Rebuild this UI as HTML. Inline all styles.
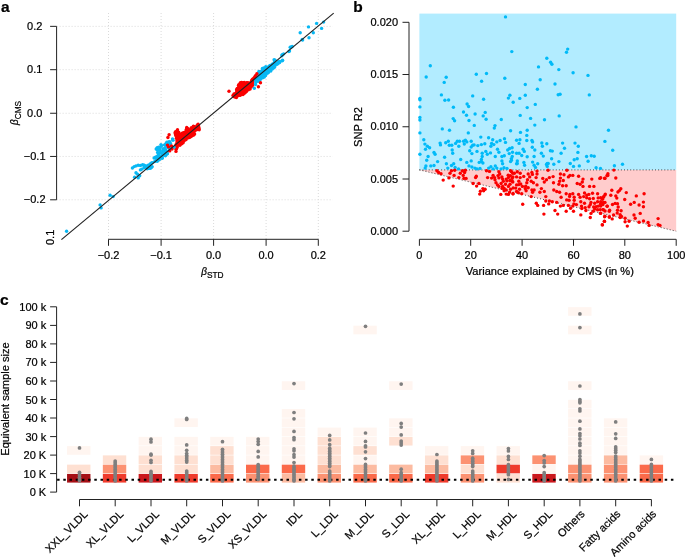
<!DOCTYPE html>
<html><head><meta charset="utf-8"><title>figure</title>
<style>html,body{margin:0;padding:0;background:#fff}svg{display:block;will-change:transform}text{font-family:"Liberation Sans",sans-serif;fill:#000;stroke:#000;stroke-width:0.22px}</style></head><body>
<svg width="685" height="557" viewBox="0 0 685 557">
<rect x="0" y="0" width="685" height="557" fill="#fff"/>
<g id="pa">
<line x1="56.6" y1="26.35" x2="332.7" y2="26.35" stroke="#dadada" stroke-width="1" stroke-dasharray="1 2"/>
<line x1="56.6" y1="69.7" x2="332.7" y2="69.7" stroke="#dadada" stroke-width="1" stroke-dasharray="1 2"/>
<line x1="56.6" y1="113.25" x2="332.7" y2="113.25" stroke="#dadada" stroke-width="1" stroke-dasharray="1 2"/>
<line x1="56.6" y1="156.45" x2="332.7" y2="156.45" stroke="#dadada" stroke-width="1" stroke-dasharray="1 2"/>
<line x1="56.6" y1="199.8" x2="332.7" y2="199.8" stroke="#dadada" stroke-width="1" stroke-dasharray="1 2"/>
<line x1="108.5" y1="13.0" x2="108.5" y2="239.3" stroke="#dadada" stroke-width="1" stroke-dasharray="1 2"/>
<line x1="161.1" y1="13.0" x2="161.1" y2="239.3" stroke="#dadada" stroke-width="1" stroke-dasharray="1 2"/>
<line x1="213.6" y1="13.0" x2="213.6" y2="239.3" stroke="#dadada" stroke-width="1" stroke-dasharray="1 2"/>
<line x1="266.1" y1="13.0" x2="266.1" y2="239.3" stroke="#dadada" stroke-width="1" stroke-dasharray="1 2"/>
<line x1="318.3" y1="13.0" x2="318.3" y2="239.3" stroke="#dadada" stroke-width="1" stroke-dasharray="1 2"/>
<g fill="#FA0000">
<circle cx="180.4" cy="142.1" r="1.7"/>
<circle cx="181.4" cy="134.1" r="1.7"/>
<circle cx="188.9" cy="134.1" r="1.7"/>
<circle cx="183.3" cy="134.1" r="1.7"/>
<circle cx="177.0" cy="141.9" r="1.7"/>
<circle cx="178.9" cy="137.0" r="1.7"/>
<circle cx="180.3" cy="135.0" r="1.7"/>
<circle cx="190.0" cy="133.0" r="1.7"/>
<circle cx="176.9" cy="136.0" r="1.7"/>
<circle cx="178.7" cy="132.1" r="1.7"/>
<circle cx="179.1" cy="140.0" r="1.7"/>
<circle cx="188.6" cy="137.7" r="1.7"/>
<circle cx="180.7" cy="139.4" r="1.7"/>
<circle cx="187.6" cy="135.5" r="1.7"/>
<circle cx="191.8" cy="129.9" r="1.7"/>
<circle cx="196.7" cy="128.7" r="1.7"/>
<circle cx="189.5" cy="131.8" r="1.7"/>
<circle cx="194.6" cy="126.6" r="1.7"/>
<circle cx="186.6" cy="138.0" r="1.7"/>
<circle cx="196.0" cy="127.4" r="1.7"/>
<circle cx="176.9" cy="145.8" r="1.7"/>
<circle cx="197.2" cy="125.3" r="1.7"/>
<circle cx="186.5" cy="132.3" r="1.7"/>
<circle cx="179.2" cy="143.2" r="1.7"/>
<circle cx="185.5" cy="138.6" r="1.7"/>
<circle cx="198.1" cy="124.2" r="1.7"/>
<circle cx="177.1" cy="137.4" r="1.7"/>
<circle cx="185.0" cy="140.1" r="1.7"/>
<circle cx="186.7" cy="128.8" r="1.7"/>
<circle cx="183.7" cy="135.5" r="1.7"/>
<circle cx="178.6" cy="138.6" r="1.7"/>
<circle cx="189.5" cy="130.2" r="1.7"/>
<circle cx="191.2" cy="134.0" r="1.7"/>
<circle cx="198.8" cy="128.7" r="1.7"/>
<circle cx="180.0" cy="137.2" r="1.7"/>
<circle cx="194.3" cy="131.3" r="1.7"/>
<circle cx="192.6" cy="134.0" r="1.7"/>
<circle cx="176.1" cy="149.3" r="1.7"/>
<circle cx="177.0" cy="143.4" r="1.7"/>
<circle cx="192.2" cy="132.4" r="1.7"/>
<circle cx="185.7" cy="133.5" r="1.7"/>
<circle cx="177.3" cy="130.8" r="1.7"/>
<circle cx="175.1" cy="132.7" r="1.7"/>
<circle cx="187.6" cy="137.0" r="1.7"/>
<circle cx="181.0" cy="143.1" r="1.7"/>
<circle cx="181.2" cy="138.0" r="1.7"/>
<circle cx="193.7" cy="135.0" r="1.7"/>
<circle cx="194.6" cy="134.1" r="1.7"/>
<circle cx="191.7" cy="136.1" r="1.7"/>
<circle cx="177.2" cy="140.3" r="1.7"/>
<circle cx="183.4" cy="140.0" r="1.7"/>
<circle cx="177.3" cy="147.0" r="1.7"/>
<circle cx="183.1" cy="138.8" r="1.7"/>
<circle cx="184.7" cy="136.8" r="1.7"/>
<circle cx="185.4" cy="132.1" r="1.7"/>
<circle cx="178.9" cy="144.5" r="1.7"/>
<circle cx="182.4" cy="137.6" r="1.7"/>
<circle cx="186.5" cy="136.5" r="1.7"/>
<circle cx="175.4" cy="133.9" r="1.7"/>
<circle cx="179.9" cy="145.3" r="1.7"/>
<circle cx="191.8" cy="131.3" r="1.7"/>
<circle cx="184.7" cy="134.1" r="1.7"/>
<circle cx="188.8" cy="136.3" r="1.7"/>
<circle cx="176.5" cy="148.4" r="1.7"/>
<circle cx="190.9" cy="131.9" r="1.7"/>
<circle cx="193.5" cy="129.5" r="1.7"/>
<circle cx="193.2" cy="127.7" r="1.7"/>
<circle cx="195.6" cy="129.9" r="1.7"/>
<circle cx="198.6" cy="126.1" r="1.7"/>
<circle cx="182.0" cy="136.5" r="1.7"/>
<circle cx="189.9" cy="137.2" r="1.7"/>
<circle cx="181.8" cy="138.9" r="1.7"/>
<circle cx="187.6" cy="132.3" r="1.7"/>
<circle cx="176.6" cy="133.9" r="1.7"/>
<circle cx="178.5" cy="142.1" r="1.7"/>
<circle cx="181.0" cy="140.4" r="1.7"/>
<circle cx="176.4" cy="138.3" r="1.7"/>
<circle cx="178.1" cy="143.3" r="1.7"/>
<circle cx="186.3" cy="134.4" r="1.7"/>
<circle cx="177.9" cy="136.7" r="1.7"/>
<circle cx="184.1" cy="139.0" r="1.7"/>
<circle cx="188.0" cy="133.5" r="1.7"/>
<circle cx="176.0" cy="144.7" r="1.7"/>
<circle cx="188.3" cy="131.0" r="1.7"/>
<circle cx="181.7" cy="143.8" r="1.7"/>
<circle cx="190.6" cy="129.4" r="1.7"/>
<circle cx="193.4" cy="126.1" r="1.7"/>
<circle cx="187.0" cy="133.3" r="1.7"/>
<circle cx="176.2" cy="146.8" r="1.7"/>
<circle cx="181.6" cy="142.3" r="1.7"/>
<circle cx="198.9" cy="127.7" r="1.7"/>
<circle cx="175.6" cy="131.7" r="1.7"/>
<circle cx="192.5" cy="135.3" r="1.7"/>
<circle cx="186.1" cy="130.0" r="1.7"/>
<circle cx="186.7" cy="127.4" r="1.7"/>
<circle cx="177.0" cy="132.3" r="1.7"/>
<circle cx="183.7" cy="137.7" r="1.7"/>
<circle cx="185.0" cy="135.5" r="1.7"/>
<circle cx="182.5" cy="141.7" r="1.7"/>
<circle cx="182.0" cy="140.4" r="1.7"/>
<circle cx="191.4" cy="127.6" r="1.7"/>
<circle cx="183.4" cy="136.6" r="1.7"/>
<circle cx="179.2" cy="133.4" r="1.7"/>
<circle cx="197.7" cy="128.4" r="1.7"/>
<circle cx="193.9" cy="133.2" r="1.7"/>
<circle cx="183.1" cy="142.8" r="1.7"/>
<circle cx="191.7" cy="128.6" r="1.7"/>
<circle cx="178.3" cy="135.1" r="1.7"/>
<circle cx="188.0" cy="128.8" r="1.7"/>
<circle cx="178.5" cy="141.1" r="1.7"/>
<circle cx="182.2" cy="133.3" r="1.7"/>
<circle cx="189.4" cy="135.2" r="1.7"/>
<circle cx="196.6" cy="129.8" r="1.7"/>
<circle cx="179.9" cy="140.6" r="1.7"/>
<circle cx="199.2" cy="129.7" r="1.7"/>
<circle cx="183.3" cy="132.9" r="1.7"/>
<circle cx="177.7" cy="133.4" r="1.7"/>
<circle cx="189.9" cy="134.2" r="1.7"/>
<circle cx="190.7" cy="136.5" r="1.7"/>
<circle cx="184.3" cy="132.5" r="1.7"/>
<circle cx="183.8" cy="141.0" r="1.7"/>
<circle cx="177.5" cy="129.7" r="1.7"/>
<circle cx="186.1" cy="139.6" r="1.7"/>
<circle cx="190.7" cy="130.5" r="1.7"/>
<circle cx="175.7" cy="135.4" r="1.7"/>
<circle cx="188.0" cy="129.8" r="1.7"/>
<circle cx="197.0" cy="126.7" r="1.7"/>
<circle cx="177.4" cy="139.1" r="1.7"/>
<circle cx="179.6" cy="136.2" r="1.7"/>
<circle cx="194.8" cy="128.5" r="1.7"/>
<circle cx="238.7" cy="90.6" r="1.7"/>
<circle cx="241.3" cy="93.1" r="1.7"/>
<circle cx="237.5" cy="93.8" r="1.7"/>
<circle cx="245.5" cy="90.1" r="1.7"/>
<circle cx="246.5" cy="89.3" r="1.7"/>
<circle cx="236.4" cy="93.6" r="1.7"/>
<circle cx="243.6" cy="90.6" r="1.7"/>
<circle cx="245.0" cy="84.5" r="1.7"/>
<circle cx="243.7" cy="84.0" r="1.7"/>
<circle cx="249.7" cy="87.6" r="1.7"/>
<circle cx="239.9" cy="87.6" r="1.7"/>
<circle cx="247.6" cy="84.9" r="1.7"/>
<circle cx="237.2" cy="88.5" r="1.7"/>
<circle cx="251.3" cy="82.2" r="1.7"/>
<circle cx="245.8" cy="88.3" r="1.7"/>
<circle cx="240.4" cy="82.6" r="1.7"/>
<circle cx="251.6" cy="80.8" r="1.7"/>
<circle cx="242.7" cy="86.9" r="1.7"/>
<circle cx="248.1" cy="89.9" r="1.7"/>
<circle cx="248.4" cy="87.2" r="1.7"/>
<circle cx="233.0" cy="95.4" r="1.7"/>
<circle cx="242.7" cy="93.2" r="1.7"/>
<circle cx="244.0" cy="86.5" r="1.7"/>
<circle cx="237.2" cy="90.5" r="1.7"/>
<circle cx="241.3" cy="84.3" r="1.7"/>
<circle cx="242.0" cy="90.5" r="1.7"/>
<circle cx="241.0" cy="86.2" r="1.7"/>
<circle cx="253.9" cy="79.0" r="1.7"/>
<circle cx="240.6" cy="90.8" r="1.7"/>
<circle cx="240.9" cy="88.4" r="1.7"/>
<circle cx="239.9" cy="85.7" r="1.7"/>
<circle cx="253.1" cy="80.7" r="1.7"/>
<circle cx="234.0" cy="95.2" r="1.7"/>
<circle cx="243.7" cy="89.3" r="1.7"/>
<circle cx="235.2" cy="93.6" r="1.7"/>
<circle cx="240.0" cy="94.1" r="1.7"/>
<circle cx="255.0" cy="77.0" r="1.7"/>
<circle cx="251.6" cy="84.1" r="1.7"/>
<circle cx="252.9" cy="78.9" r="1.7"/>
<circle cx="245.1" cy="92.4" r="1.7"/>
<circle cx="236.7" cy="96.4" r="1.7"/>
<circle cx="243.3" cy="82.7" r="1.7"/>
<circle cx="244.4" cy="93.2" r="1.7"/>
<circle cx="242.9" cy="91.3" r="1.7"/>
<circle cx="239.2" cy="86.7" r="1.7"/>
<circle cx="244.4" cy="87.6" r="1.7"/>
<circle cx="250.0" cy="84.5" r="1.7"/>
<circle cx="240.3" cy="95.3" r="1.7"/>
<circle cx="243.4" cy="92.3" r="1.7"/>
<circle cx="238.6" cy="95.6" r="1.7"/>
<circle cx="250.1" cy="89.1" r="1.7"/>
<circle cx="254.2" cy="77.8" r="1.7"/>
<circle cx="252.3" cy="82.0" r="1.7"/>
<circle cx="250.8" cy="83.1" r="1.7"/>
<circle cx="241.6" cy="82.5" r="1.7"/>
<circle cx="236.4" cy="97.5" r="1.7"/>
<circle cx="255.7" cy="76.2" r="1.7"/>
<circle cx="236.6" cy="92.0" r="1.7"/>
<circle cx="241.3" cy="87.4" r="1.7"/>
<circle cx="246.8" cy="84.1" r="1.7"/>
<circle cx="252.4" cy="85.4" r="1.7"/>
<circle cx="239.2" cy="89.1" r="1.7"/>
<circle cx="243.3" cy="88.1" r="1.7"/>
<circle cx="248.6" cy="84.2" r="1.7"/>
<circle cx="245.3" cy="86.0" r="1.7"/>
<circle cx="239.8" cy="84.5" r="1.7"/>
<circle cx="238.8" cy="87.6" r="1.7"/>
<circle cx="243.0" cy="94.6" r="1.7"/>
<circle cx="249.2" cy="83.0" r="1.7"/>
<circle cx="250.6" cy="87.1" r="1.7"/>
<circle cx="242.4" cy="84.7" r="1.7"/>
<circle cx="235.3" cy="96.9" r="1.7"/>
<circle cx="251.5" cy="86.5" r="1.7"/>
<circle cx="239.0" cy="93.1" r="1.7"/>
<circle cx="237.8" cy="89.4" r="1.7"/>
<circle cx="245.9" cy="87.1" r="1.7"/>
<circle cx="241.2" cy="94.4" r="1.7"/>
<circle cx="248.8" cy="89.0" r="1.7"/>
<circle cx="252.3" cy="83.1" r="1.7"/>
<circle cx="234.0" cy="93.9" r="1.7"/>
<circle cx="246.5" cy="90.5" r="1.7"/>
<circle cx="235.0" cy="94.8" r="1.7"/>
<circle cx="246.4" cy="91.6" r="1.7"/>
<circle cx="246.0" cy="85.0" r="1.7"/>
<circle cx="252.6" cy="84.4" r="1.7"/>
<circle cx="238.4" cy="92.2" r="1.7"/>
<circle cx="236.5" cy="95.4" r="1.7"/>
<circle cx="246.6" cy="82.6" r="1.7"/>
<circle cx="249.0" cy="85.3" r="1.7"/>
<circle cx="244.9" cy="83.5" r="1.7"/>
<circle cx="244.9" cy="91.2" r="1.7"/>
<circle cx="247.7" cy="82.7" r="1.7"/>
<circle cx="246.6" cy="85.9" r="1.7"/>
<circle cx="238.5" cy="85.6" r="1.7"/>
<circle cx="240.3" cy="91.8" r="1.7"/>
<circle cx="236.6" cy="89.7" r="1.7"/>
<circle cx="238.8" cy="84.6" r="1.7"/>
<circle cx="234.3" cy="96.8" r="1.7"/>
<circle cx="244.3" cy="82.4" r="1.7"/>
<circle cx="252.2" cy="79.8" r="1.7"/>
<circle cx="229.0" cy="91.3" r="1.7"/>
</g>
<g fill="#08B8F4">
<circle cx="66.6" cy="231.3" r="1.7"/>
<circle cx="100.1" cy="204.9" r="1.7"/>
<circle cx="101.1" cy="207.9" r="1.7"/>
<circle cx="110.1" cy="195.3" r="1.7"/>
<circle cx="113.1" cy="196.6" r="1.7"/>
<circle cx="132.4" cy="168.0" r="1.7"/>
<circle cx="134.2" cy="166.6" r="1.7"/>
<circle cx="136.0" cy="165.9" r="1.7"/>
<circle cx="138.2" cy="165.2" r="1.7"/>
<circle cx="140.4" cy="165.5" r="1.7"/>
<circle cx="142.6" cy="164.7" r="1.7"/>
<circle cx="144.1" cy="165.2" r="1.7"/>
<circle cx="134.6" cy="177.2" r="1.7"/>
<circle cx="136.0" cy="172.8" r="1.7"/>
<circle cx="137.5" cy="174.2" r="1.7"/>
<circle cx="138.2" cy="177.9" r="1.7"/>
<circle cx="139.7" cy="175.7" r="1.7"/>
<circle cx="140.4" cy="169.9" r="1.7"/>
<circle cx="141.9" cy="169.1" r="1.7"/>
<circle cx="144.1" cy="167.7" r="1.7"/>
<circle cx="146.3" cy="166.9" r="1.7"/>
<circle cx="148.5" cy="168.4" r="1.7"/>
<circle cx="149.9" cy="167.7" r="1.7"/>
<circle cx="152.1" cy="166.6" r="1.7"/>
<circle cx="162.3" cy="158.2" r="1.7"/>
<circle cx="167.4" cy="153.8" r="1.7"/>
<circle cx="170.4" cy="148.7" r="1.7"/>
<circle cx="174.0" cy="147.2" r="1.7"/>
<circle cx="300.2" cy="32.7" r="1.7"/>
<circle cx="302.2" cy="39.5" r="1.7"/>
<circle cx="308.5" cy="26.9" r="1.7"/>
<circle cx="309.0" cy="37.7" r="1.7"/>
<circle cx="313.3" cy="32.7" r="1.7"/>
<circle cx="316.6" cy="23.4" r="1.7"/>
<circle cx="321.6" cy="28.4" r="1.7"/>
<circle cx="323.6" cy="22.1" r="1.7"/>
<circle cx="288.9" cy="51.5" r="1.7"/>
<circle cx="290.9" cy="47.3" r="1.7"/>
<circle cx="292.2" cy="46.5" r="1.7"/>
<circle cx="281.9" cy="55.8" r="1.7"/>
<circle cx="282.6" cy="60.3" r="1.7"/>
<circle cx="275.1" cy="60.3" r="1.7"/>
<circle cx="282.2" cy="54.6" r="1.7"/>
<circle cx="283.6" cy="53.9" r="1.7"/>
<circle cx="274.1" cy="59.7" r="1.7"/>
<circle cx="289.5" cy="50.9" r="1.7"/>
<circle cx="290.2" cy="47.3" r="1.7"/>
<circle cx="302.6" cy="40.0" r="1.7"/>
<circle cx="148.2" cy="165.3" r="1.7"/>
<circle cx="150.0" cy="164.2" r="1.7"/>
<circle cx="147.0" cy="166.0" r="1.7"/>
<circle cx="160.8" cy="152.9" r="1.7"/>
<circle cx="162.3" cy="153.8" r="1.7"/>
<circle cx="166.0" cy="154.6" r="1.7"/>
<circle cx="162.6" cy="155.3" r="1.7"/>
<circle cx="161.0" cy="144.6" r="1.7"/>
<circle cx="168.9" cy="148.2" r="1.7"/>
<circle cx="170.9" cy="147.8" r="1.7"/>
<circle cx="169.2" cy="144.3" r="1.7"/>
<circle cx="169.7" cy="141.6" r="1.7"/>
<circle cx="163.6" cy="149.6" r="1.7"/>
<circle cx="154.1" cy="158.0" r="1.7"/>
<circle cx="169.0" cy="146.1" r="1.7"/>
<circle cx="158.8" cy="149.8" r="1.7"/>
<circle cx="155.4" cy="157.2" r="1.7"/>
<circle cx="155.8" cy="160.8" r="1.7"/>
<circle cx="164.5" cy="145.0" r="1.7"/>
<circle cx="167.0" cy="153.7" r="1.7"/>
<circle cx="161.6" cy="158.0" r="1.7"/>
<circle cx="158.3" cy="156.7" r="1.7"/>
<circle cx="165.3" cy="147.7" r="1.7"/>
<circle cx="164.2" cy="154.4" r="1.7"/>
<circle cx="157.0" cy="156.5" r="1.7"/>
<circle cx="165.3" cy="151.0" r="1.7"/>
<circle cx="157.3" cy="161.2" r="1.7"/>
<circle cx="157.2" cy="159.8" r="1.7"/>
<circle cx="170.5" cy="143.4" r="1.7"/>
<circle cx="165.4" cy="149.6" r="1.7"/>
<circle cx="165.4" cy="155.8" r="1.7"/>
<circle cx="166.8" cy="142.3" r="1.7"/>
<circle cx="167.1" cy="151.8" r="1.7"/>
<circle cx="159.3" cy="159.8" r="1.7"/>
<circle cx="172.5" cy="138.9" r="1.7"/>
<circle cx="158.9" cy="153.2" r="1.7"/>
<circle cx="171.2" cy="146.7" r="1.7"/>
<circle cx="156.7" cy="158.0" r="1.7"/>
<circle cx="157.2" cy="147.7" r="1.7"/>
<circle cx="154.6" cy="161.6" r="1.7"/>
<circle cx="163.0" cy="151.3" r="1.7"/>
<circle cx="163.1" cy="148.6" r="1.7"/>
<circle cx="161.5" cy="145.8" r="1.7"/>
<circle cx="173.0" cy="140.2" r="1.7"/>
<circle cx="166.9" cy="145.9" r="1.7"/>
<circle cx="158.4" cy="154.7" r="1.7"/>
<circle cx="158.9" cy="148.6" r="1.7"/>
<circle cx="165.6" cy="152.1" r="1.7"/>
<circle cx="159.6" cy="156.7" r="1.7"/>
<circle cx="162.1" cy="156.7" r="1.7"/>
<circle cx="157.6" cy="150.2" r="1.7"/>
<circle cx="151.1" cy="163.2" r="1.7"/>
<circle cx="160.3" cy="150.5" r="1.7"/>
<circle cx="160.6" cy="156.2" r="1.7"/>
<circle cx="168.1" cy="143.4" r="1.7"/>
<circle cx="152.2" cy="162.8" r="1.7"/>
<circle cx="168.5" cy="142.0" r="1.7"/>
<circle cx="156.2" cy="149.0" r="1.7"/>
<circle cx="157.6" cy="152.6" r="1.7"/>
<circle cx="160.2" cy="147.3" r="1.7"/>
<circle cx="158.4" cy="157.9" r="1.7"/>
<circle cx="169.8" cy="145.4" r="1.7"/>
<circle cx="158.6" cy="147.1" r="1.7"/>
<circle cx="163.2" cy="153.2" r="1.7"/>
<circle cx="165.9" cy="143.6" r="1.7"/>
<circle cx="145.4" cy="166.2" r="1.7"/>
<circle cx="149.1" cy="165.5" r="1.7"/>
<circle cx="150.5" cy="168.2" r="1.7"/>
<circle cx="151.5" cy="167.2" r="1.7"/>
<circle cx="146.5" cy="167.6" r="1.7"/>
<circle cx="147.2" cy="168.7" r="1.7"/>
<circle cx="149.2" cy="166.9" r="1.7"/>
<circle cx="148.1" cy="166.3" r="1.7"/>
<circle cx="144.3" cy="165.4" r="1.7"/>
<circle cx="148.2" cy="167.9" r="1.7"/>
<circle cx="273.7" cy="63.5" r="1.7"/>
<circle cx="263.2" cy="71.9" r="1.7"/>
<circle cx="254.3" cy="88.2" r="1.7"/>
<circle cx="272.2" cy="64.2" r="1.7"/>
<circle cx="265.2" cy="72.3" r="1.7"/>
<circle cx="263.8" cy="70.6" r="1.7"/>
<circle cx="264.0" cy="75.3" r="1.7"/>
<circle cx="259.5" cy="72.6" r="1.7"/>
<circle cx="258.1" cy="81.2" r="1.7"/>
<circle cx="259.7" cy="75.8" r="1.7"/>
<circle cx="274.9" cy="65.8" r="1.7"/>
<circle cx="265.8" cy="66.7" r="1.7"/>
<circle cx="263.7" cy="68.9" r="1.7"/>
<circle cx="260.2" cy="72.0" r="1.7"/>
<circle cx="263.9" cy="67.9" r="1.7"/>
<circle cx="260.4" cy="73.6" r="1.7"/>
<circle cx="268.3" cy="70.5" r="1.7"/>
<circle cx="256.4" cy="79.4" r="1.7"/>
<circle cx="272.1" cy="67.4" r="1.7"/>
<circle cx="265.4" cy="71.1" r="1.7"/>
<circle cx="255.7" cy="80.8" r="1.7"/>
<circle cx="265.6" cy="75.5" r="1.7"/>
<circle cx="269.7" cy="69.1" r="1.7"/>
<circle cx="255.7" cy="82.5" r="1.7"/>
<circle cx="270.8" cy="71.1" r="1.7"/>
<circle cx="262.3" cy="70.3" r="1.7"/>
<circle cx="267.2" cy="70.4" r="1.7"/>
<circle cx="260.7" cy="76.0" r="1.7"/>
<circle cx="273.5" cy="68.0" r="1.7"/>
<circle cx="265.6" cy="69.4" r="1.7"/>
<circle cx="282.3" cy="60.8" r="1.7"/>
<circle cx="258.0" cy="78.9" r="1.7"/>
<circle cx="262.7" cy="77.7" r="1.7"/>
<circle cx="275.8" cy="63.5" r="1.7"/>
<circle cx="257.8" cy="78.0" r="1.7"/>
<circle cx="274.5" cy="61.9" r="1.7"/>
<circle cx="262.4" cy="68.5" r="1.7"/>
<circle cx="275.2" cy="64.5" r="1.7"/>
<circle cx="258.1" cy="74.8" r="1.7"/>
<circle cx="257.8" cy="76.8" r="1.7"/>
<circle cx="259.5" cy="78.0" r="1.7"/>
<circle cx="278.4" cy="61.7" r="1.7"/>
<circle cx="276.5" cy="64.6" r="1.7"/>
<circle cx="264.3" cy="77.0" r="1.7"/>
<circle cx="265.0" cy="68.6" r="1.7"/>
<circle cx="256.9" cy="81.0" r="1.7"/>
<circle cx="279.6" cy="62.5" r="1.7"/>
<circle cx="270.8" cy="69.3" r="1.7"/>
<circle cx="267.1" cy="68.8" r="1.7"/>
<circle cx="272.2" cy="69.1" r="1.7"/>
<circle cx="259.6" cy="76.8" r="1.7"/>
<circle cx="268.6" cy="69.1" r="1.7"/>
<circle cx="269.2" cy="66.1" r="1.7"/>
<circle cx="268.6" cy="67.0" r="1.7"/>
<circle cx="268.4" cy="72.5" r="1.7"/>
<circle cx="280.0" cy="61.5" r="1.7"/>
<circle cx="272.5" cy="66.2" r="1.7"/>
<circle cx="262.7" cy="74.7" r="1.7"/>
<circle cx="266.6" cy="67.6" r="1.7"/>
<circle cx="262.4" cy="76.5" r="1.7"/>
<circle cx="267.1" cy="73.4" r="1.7"/>
<circle cx="269.5" cy="70.3" r="1.7"/>
<circle cx="267.1" cy="72.4" r="1.7"/>
<circle cx="259.3" cy="79.1" r="1.7"/>
<circle cx="260.8" cy="78.5" r="1.7"/>
<circle cx="261.3" cy="71.5" r="1.7"/>
<circle cx="259.0" cy="80.7" r="1.7"/>
<circle cx="258.7" cy="75.9" r="1.7"/>
<circle cx="270.1" cy="65.4" r="1.7"/>
<circle cx="270.4" cy="67.1" r="1.7"/>
<circle cx="258.8" cy="73.3" r="1.7"/>
<circle cx="274.4" cy="67.2" r="1.7"/>
<circle cx="267.8" cy="67.6" r="1.7"/>
<circle cx="255.6" cy="84.5" r="1.7"/>
<circle cx="261.6" cy="73.3" r="1.7"/>
<circle cx="260.0" cy="79.9" r="1.7"/>
<circle cx="275.1" cy="61.0" r="1.7"/>
<circle cx="258.9" cy="71.4" r="1.7"/>
<circle cx="266.7" cy="71.2" r="1.7"/>
<circle cx="257.5" cy="80.1" r="1.7"/>
<circle cx="277.9" cy="63.7" r="1.7"/>
<circle cx="261.1" cy="74.6" r="1.7"/>
<circle cx="271.8" cy="65.4" r="1.7"/>
<circle cx="264.9" cy="74.7" r="1.7"/>
<circle cx="264.0" cy="72.9" r="1.7"/>
</g>
<g fill="#FA0000">
<circle cx="167.9" cy="137.5" r="1.7"/>
<circle cx="169.1" cy="134.8" r="1.7"/>
<circle cx="167.5" cy="145.1" r="1.7"/>
<circle cx="168.5" cy="146.9" r="1.7"/>
<circle cx="169.7" cy="150.9" r="1.7"/>
<circle cx="171.5" cy="146.0" r="1.7"/>
<circle cx="172.0" cy="149.1" r="1.7"/>
<circle cx="176.0" cy="151.4" r="1.7"/>
<circle cx="260.5" cy="82.8" r="1.7"/>
<circle cx="258.4" cy="86.8" r="1.7"/>
<circle cx="256.9" cy="73.8" r="1.7"/>
<circle cx="255.5" cy="75.6" r="1.7"/>
</g>
<line x1="61.4" y1="239.6" x2="333.7" y2="13.1" stroke="#222" stroke-width="1.15"/>
<path d="M50.1 26.35H56.6V199.8H50.1" fill="none" stroke="#222" stroke-width="1"/>
<line x1="50.1" y1="69.7" x2="56.6" y2="69.7" stroke="#222" stroke-width="1"/>
<line x1="50.1" y1="113.25" x2="56.6" y2="113.25" stroke="#222" stroke-width="1"/>
<line x1="50.1" y1="156.45" x2="56.6" y2="156.45" stroke="#222" stroke-width="1"/>
<path d="M108.5 245.8V239.3H318.3V245.8" fill="none" stroke="#222" stroke-width="1"/>
<line x1="161.1" y1="239.3" x2="161.1" y2="245.8" stroke="#222" stroke-width="1"/>
<line x1="213.6" y1="239.3" x2="213.6" y2="245.8" stroke="#222" stroke-width="1"/>
<line x1="266.1" y1="239.3" x2="266.1" y2="245.8" stroke="#222" stroke-width="1"/>
<text x="34.7" y="29.950000000000003" font-size="11" text-anchor="middle">0.2</text>
<text x="34.7" y="73.3" font-size="11" text-anchor="middle">0.1</text>
<text x="34.7" y="116.85" font-size="11" text-anchor="middle">0.0</text>
<text x="34.7" y="160.04999999999998" font-size="11" text-anchor="middle">−0.1</text>
<text x="34.7" y="203.4" font-size="11" text-anchor="middle">−0.2</text>
<text x="108.5" y="258.6" font-size="11" text-anchor="middle">−0.2</text>
<text x="161.1" y="258.6" font-size="11" text-anchor="middle">−0.1</text>
<text x="213.6" y="258.6" font-size="11" text-anchor="middle">0.0</text>
<text x="266.1" y="258.6" font-size="11" text-anchor="middle">0.0</text>
<text x="318.3" y="258.6" font-size="11" text-anchor="middle">0.2</text>
<text transform="translate(54.3,237.4) rotate(-90)" font-size="11" text-anchor="middle">0.1</text>
<text x="201.2" y="275" font-size="11" text-anchor="start"><tspan font-style="italic" font-size="10">β</tspan><tspan font-size="8.3" dy="3">STD</tspan></text>
<text transform="translate(18,125) rotate(-90)" font-size="11" text-anchor="start"><tspan font-style="italic" font-size="10">β</tspan><tspan font-size="8.3" dy="3">CMS</tspan></text>
<text x="1" y="11.5" font-size="15.5" font-weight="bold" fill="#000" stroke-width="0.35">a</text>
</g>
<g id="pb">
<rect x="419.4" y="13.6" width="256.80000000000007" height="156.3" fill="#B2ECFF"/>
<path d="M419.4 169.9L676.2 169.9L676.2 231.2Z" fill="#FFCCCC"/>
<line x1="419.4" y1="169.9" x2="676.2" y2="169.9" stroke="#333" stroke-width="0.9" stroke-dasharray="1 2.1"/>
<line x1="419.4" y1="169.9" x2="676.2" y2="231.2" stroke="#333" stroke-width="0.9" stroke-dasharray="1 2.1"/>
<g fill="#00BAF8">
<circle cx="505.5" cy="16.9" r="1.7"/>
<circle cx="511.8" cy="51.6" r="1.7"/>
<circle cx="430.3" cy="65.8" r="1.7"/>
<circle cx="426.2" cy="77" r="1.7"/>
<circle cx="446.2" cy="77.3" r="1.7"/>
<circle cx="444.2" cy="82.4" r="1.7"/>
<circle cx="476.3" cy="74.2" r="1.7"/>
<circle cx="486.5" cy="73.5" r="1.7"/>
<circle cx="481.6" cy="81.2" r="1.7"/>
<circle cx="504.8" cy="78.2" r="1.7"/>
<circle cx="419.9" cy="98.4" r="1.7"/>
<circle cx="419.9" cy="99.8" r="1.7"/>
<circle cx="419.9" cy="106.9" r="1.7"/>
<circle cx="419.9" cy="117.4" r="1.7"/>
<circle cx="419.9" cy="120" r="1.7"/>
<circle cx="419.9" cy="132.9" r="1.7"/>
<circle cx="419.9" cy="154.3" r="1.7"/>
<circle cx="441.4" cy="94.9" r="1.7"/>
<circle cx="444.9" cy="100.3" r="1.7"/>
<circle cx="448.6" cy="100" r="1.7"/>
<circle cx="453.4" cy="107.2" r="1.7"/>
<circle cx="472.7" cy="95.9" r="1.7"/>
<circle cx="483.6" cy="99.2" r="1.7"/>
<circle cx="467.1" cy="104" r="1.7"/>
<circle cx="468.6" cy="106.5" r="1.7"/>
<circle cx="509.9" cy="95.2" r="1.7"/>
<circle cx="508.4" cy="98.1" r="1.7"/>
<circle cx="513.2" cy="102.2" r="1.7"/>
<circle cx="463.5" cy="112" r="1.7"/>
<circle cx="466.5" cy="115.2" r="1.7"/>
<circle cx="475.1" cy="114" r="1.7"/>
<circle cx="485.2" cy="112.4" r="1.7"/>
<circle cx="483.2" cy="115.9" r="1.7"/>
<circle cx="486.1" cy="119.3" r="1.7"/>
<circle cx="453.2" cy="118.6" r="1.7"/>
<circle cx="454.6" cy="120.8" r="1.7"/>
<circle cx="469" cy="120.5" r="1.7"/>
<circle cx="501.3" cy="119.5" r="1.7"/>
<circle cx="474.3" cy="125.4" r="1.7"/>
<circle cx="495" cy="125.6" r="1.7"/>
<circle cx="494.3" cy="128.1" r="1.7"/>
<circle cx="442.3" cy="128.9" r="1.7"/>
<circle cx="449.5" cy="130.3" r="1.7"/>
<circle cx="468.3" cy="132.9" r="1.7"/>
<circle cx="510.6" cy="130.7" r="1.7"/>
<circle cx="480.8" cy="137.1" r="1.7"/>
<circle cx="488.6" cy="137.8" r="1.7"/>
<circle cx="492.7" cy="139.7" r="1.7"/>
<circle cx="504.5" cy="138.7" r="1.7"/>
<circle cx="423.8" cy="139.7" r="1.7"/>
<circle cx="424.9" cy="144.1" r="1.7"/>
<circle cx="427.4" cy="146.3" r="1.7"/>
<circle cx="429.6" cy="147.8" r="1.7"/>
<circle cx="425.5" cy="149.2" r="1.7"/>
<circle cx="440.1" cy="143.1" r="1.7"/>
<circle cx="440.5" cy="144.9" r="1.7"/>
<circle cx="445.7" cy="142.7" r="1.7"/>
<circle cx="448.3" cy="141.2" r="1.7"/>
<circle cx="449.3" cy="145.3" r="1.7"/>
<circle cx="451.8" cy="145.3" r="1.7"/>
<circle cx="455.6" cy="143.4" r="1.7"/>
<circle cx="457.3" cy="141.2" r="1.7"/>
<circle cx="459.5" cy="141.2" r="1.7"/>
<circle cx="458.8" cy="146.3" r="1.7"/>
<circle cx="463.6" cy="141.2" r="1.7"/>
<circle cx="465.4" cy="140.2" r="1.7"/>
<circle cx="466.8" cy="141.9" r="1.7"/>
<circle cx="464.3" cy="144.1" r="1.7"/>
<circle cx="471.2" cy="141.2" r="1.7"/>
<circle cx="472.7" cy="145.3" r="1.7"/>
<circle cx="474.1" cy="144.9" r="1.7"/>
<circle cx="471.2" cy="147" r="1.7"/>
<circle cx="477.8" cy="145.6" r="1.7"/>
<circle cx="481.4" cy="144.6" r="1.7"/>
<circle cx="484.8" cy="143.8" r="1.7"/>
<circle cx="469.7" cy="150.7" r="1.7"/>
<circle cx="471.9" cy="153.6" r="1.7"/>
<circle cx="477" cy="151.4" r="1.7"/>
<circle cx="482.2" cy="153.3" r="1.7"/>
<circle cx="485.8" cy="151.4" r="1.7"/>
<circle cx="487.3" cy="154.3" r="1.7"/>
<circle cx="490.5" cy="152.9" r="1.7"/>
<circle cx="491.6" cy="143.4" r="1.7"/>
<circle cx="490.9" cy="146.3" r="1.7"/>
<circle cx="493.8" cy="144.6" r="1.7"/>
<circle cx="496.8" cy="141.9" r="1.7"/>
<circle cx="500.1" cy="140.5" r="1.7"/>
<circle cx="505.5" cy="142.4" r="1.7"/>
<circle cx="497.5" cy="149.2" r="1.7"/>
<circle cx="498.9" cy="152.2" r="1.7"/>
<circle cx="495.3" cy="156.5" r="1.7"/>
<circle cx="501.9" cy="156.5" r="1.7"/>
<circle cx="504.3" cy="155.8" r="1.7"/>
<circle cx="507.7" cy="150" r="1.7"/>
<circle cx="509.6" cy="148.5" r="1.7"/>
<circle cx="512.1" cy="147.8" r="1.7"/>
<circle cx="512.5" cy="152.2" r="1.7"/>
<circle cx="509.2" cy="153.6" r="1.7"/>
<circle cx="452.2" cy="150" r="1.7"/>
<circle cx="452.7" cy="153.3" r="1.7"/>
<circle cx="434" cy="152.4" r="1.7"/>
<circle cx="435.1" cy="154.3" r="1.7"/>
<circle cx="428.1" cy="156.5" r="1.7"/>
<circle cx="426.7" cy="160.2" r="1.7"/>
<circle cx="437.6" cy="161.6" r="1.7"/>
<circle cx="444.6" cy="157.3" r="1.7"/>
<circle cx="460.7" cy="159.5" r="1.7"/>
<circle cx="466.8" cy="162.4" r="1.7"/>
<circle cx="471.2" cy="160.9" r="1.7"/>
<circle cx="482.2" cy="156.5" r="1.7"/>
<circle cx="481.4" cy="159.5" r="1.7"/>
<circle cx="479.2" cy="162.4" r="1.7"/>
<circle cx="501.9" cy="160.9" r="1.7"/>
<circle cx="511.4" cy="160.2" r="1.7"/>
<circle cx="446.4" cy="163.8" r="1.7"/>
<circle cx="453.7" cy="163.8" r="1.7"/>
<circle cx="567.7" cy="49.1" r="1.7"/>
<circle cx="566.5" cy="52.3" r="1.7"/>
<circle cx="546.8" cy="58.2" r="1.7"/>
<circle cx="550.6" cy="62.3" r="1.7"/>
<circle cx="551.9" cy="64.3" r="1.7"/>
<circle cx="538.5" cy="66.9" r="1.7"/>
<circle cx="558.8" cy="69.6" r="1.7"/>
<circle cx="573.1" cy="72.8" r="1.7"/>
<circle cx="588" cy="75.4" r="1.7"/>
<circle cx="540.2" cy="79.8" r="1.7"/>
<circle cx="525.3" cy="84.5" r="1.7"/>
<circle cx="555" cy="84" r="1.7"/>
<circle cx="537.4" cy="89.3" r="1.7"/>
<circle cx="525.3" cy="95.2" r="1.7"/>
<circle cx="519.8" cy="98.4" r="1.7"/>
<circle cx="535.3" cy="104.4" r="1.7"/>
<circle cx="527.2" cy="107.6" r="1.7"/>
<circle cx="558.2" cy="94.8" r="1.7"/>
<circle cx="560.1" cy="94.2" r="1.7"/>
<circle cx="589.3" cy="94.9" r="1.7"/>
<circle cx="520.2" cy="115.4" r="1.7"/>
<circle cx="530.6" cy="118.4" r="1.7"/>
<circle cx="544.5" cy="119.7" r="1.7"/>
<circle cx="559.2" cy="115.9" r="1.7"/>
<circle cx="534.8" cy="125.1" r="1.7"/>
<circle cx="576" cy="126.9" r="1.7"/>
<circle cx="608.5" cy="130.3" r="1.7"/>
<circle cx="527.2" cy="130.3" r="1.7"/>
<circle cx="520.5" cy="132.4" r="1.7"/>
<circle cx="526.8" cy="135.4" r="1.7"/>
<circle cx="516.6" cy="140.2" r="1.7"/>
<circle cx="519.9" cy="139.7" r="1.7"/>
<circle cx="519.1" cy="143.4" r="1.7"/>
<circle cx="526.8" cy="140.5" r="1.7"/>
<circle cx="531.9" cy="140.5" r="1.7"/>
<circle cx="532.6" cy="141.9" r="1.7"/>
<circle cx="541.8" cy="143" r="1.7"/>
<circle cx="546.8" cy="143.8" r="1.7"/>
<circle cx="542.4" cy="146.3" r="1.7"/>
<circle cx="532.3" cy="147.3" r="1.7"/>
<circle cx="534.8" cy="150" r="1.7"/>
<circle cx="562.6" cy="143.1" r="1.7"/>
<circle cx="564.5" cy="148.2" r="1.7"/>
<circle cx="575" cy="143.1" r="1.7"/>
<circle cx="578.3" cy="146.3" r="1.7"/>
<circle cx="604.9" cy="141.4" r="1.7"/>
<circle cx="523.1" cy="149.2" r="1.7"/>
<circle cx="524.3" cy="151.4" r="1.7"/>
<circle cx="516.6" cy="153.3" r="1.7"/>
<circle cx="519.1" cy="153.3" r="1.7"/>
<circle cx="521.7" cy="155.5" r="1.7"/>
<circle cx="527.2" cy="156.8" r="1.7"/>
<circle cx="534.1" cy="156.5" r="1.7"/>
<circle cx="541.4" cy="153.3" r="1.7"/>
<circle cx="543.3" cy="156.1" r="1.7"/>
<circle cx="550.4" cy="150.7" r="1.7"/>
<circle cx="552.3" cy="151.1" r="1.7"/>
<circle cx="561.1" cy="153.3" r="1.7"/>
<circle cx="577.9" cy="152.4" r="1.7"/>
<circle cx="551.6" cy="158.7" r="1.7"/>
<circle cx="558.9" cy="161.6" r="1.7"/>
<circle cx="574.2" cy="159.7" r="1.7"/>
<circle cx="577.2" cy="158.7" r="1.7"/>
<circle cx="570.3" cy="163.5" r="1.7"/>
<circle cx="586.6" cy="156.5" r="1.7"/>
<circle cx="591.3" cy="155.8" r="1.7"/>
<circle cx="594.2" cy="156.2" r="1.7"/>
<circle cx="588.1" cy="161.2" r="1.7"/>
<circle cx="517.3" cy="160.9" r="1.7"/>
<circle cx="523.9" cy="162.4" r="1.7"/>
<circle cx="532.6" cy="162.1" r="1.7"/>
<circle cx="537.7" cy="163.8" r="1.7"/>
<circle cx="547.2" cy="163.5" r="1.7"/>
<circle cx="553.8" cy="164.3" r="1.7"/>
<circle cx="512.2" cy="156.5" r="1.7"/>
<circle cx="517.3" cy="163.5" r="1.7"/>
<circle cx="425.9" cy="165.9" r="1.7"/>
<circle cx="425.2" cy="168.1" r="1.7"/>
<circle cx="430.8" cy="165.9" r="1.7"/>
<circle cx="434" cy="165.5" r="1.7"/>
<circle cx="447.8" cy="168.1" r="1.7"/>
<circle cx="451.5" cy="165.5" r="1.7"/>
<circle cx="455.1" cy="167.4" r="1.7"/>
<circle cx="458.5" cy="168.9" r="1.7"/>
<circle cx="469" cy="165.9" r="1.7"/>
<circle cx="471.9" cy="167" r="1.7"/>
<circle cx="474.9" cy="168.1" r="1.7"/>
<circle cx="477" cy="168.9" r="1.7"/>
<circle cx="480" cy="168.4" r="1.7"/>
<circle cx="481.4" cy="161.6" r="1.7"/>
<circle cx="482.9" cy="163" r="1.7"/>
<circle cx="488.7" cy="168.1" r="1.7"/>
<circle cx="490.9" cy="166.7" r="1.7"/>
<circle cx="493.1" cy="168.9" r="1.7"/>
<circle cx="495.3" cy="165.9" r="1.7"/>
<circle cx="496.8" cy="168.1" r="1.7"/>
<circle cx="502.6" cy="163.8" r="1.7"/>
<circle cx="501.1" cy="168.9" r="1.7"/>
<circle cx="504" cy="167.8" r="1.7"/>
<circle cx="507" cy="168.4" r="1.7"/>
<circle cx="510.6" cy="161.6" r="1.7"/>
<circle cx="511.4" cy="158.6" r="1.7"/>
<circle cx="516.6" cy="163.8" r="1.7"/>
<circle cx="524.6" cy="165.2" r="1.7"/>
<circle cx="534.1" cy="165.2" r="1.7"/>
<circle cx="535.5" cy="167.4" r="1.7"/>
<circle cx="546.5" cy="164.5" r="1.7"/>
<circle cx="548.2" cy="163.5" r="1.7"/>
<circle cx="547.2" cy="166.4" r="1.7"/>
<circle cx="573.5" cy="166.4" r="1.7"/>
<circle cx="579.3" cy="165.9" r="1.7"/>
<circle cx="596.1" cy="167.8" r="1.7"/>
<circle cx="600.5" cy="168.4" r="1.7"/>
<circle cx="614.4" cy="165.8" r="1.7"/>
<circle cx="622.5" cy="164.3" r="1.7"/>
<circle cx="612.7" cy="150.3" r="1.7"/>
</g>
<g fill="#FA0000">
<circle cx="436.9" cy="170.8" r="1.7"/>
<circle cx="438.6" cy="172.5" r="1.7"/>
<circle cx="441" cy="173.7" r="1.7"/>
<circle cx="443.2" cy="180.1" r="1.7"/>
<circle cx="448.9" cy="177.9" r="1.7"/>
<circle cx="450" cy="173.2" r="1.7"/>
<circle cx="451.5" cy="170.8" r="1.7"/>
<circle cx="454.7" cy="170.3" r="1.7"/>
<circle cx="454.1" cy="175.4" r="1.7"/>
<circle cx="453.2" cy="186.1" r="1.7"/>
<circle cx="458.8" cy="177.6" r="1.7"/>
<circle cx="460.3" cy="173.2" r="1.7"/>
<circle cx="462.4" cy="170.8" r="1.7"/>
<circle cx="465.4" cy="170.3" r="1.7"/>
<circle cx="463.2" cy="175.4" r="1.7"/>
<circle cx="463.9" cy="178.4" r="1.7"/>
<circle cx="466.1" cy="178.4" r="1.7"/>
<circle cx="464.6" cy="172.5" r="1.7"/>
<circle cx="476.3" cy="176.2" r="1.7"/>
<circle cx="475.6" cy="177.6" r="1.7"/>
<circle cx="473.1" cy="183.5" r="1.7"/>
<circle cx="476.6" cy="186.1" r="1.7"/>
<circle cx="478.9" cy="183.5" r="1.7"/>
<circle cx="480.4" cy="191.2" r="1.7"/>
<circle cx="479.7" cy="194.1" r="1.7"/>
<circle cx="482.9" cy="188.6" r="1.7"/>
<circle cx="485.1" cy="189.3" r="1.7"/>
<circle cx="483.6" cy="190.8" r="1.7"/>
<circle cx="487.6" cy="177.6" r="1.7"/>
<circle cx="486.5" cy="170.8" r="1.7"/>
<circle cx="489.5" cy="171.4" r="1.7"/>
<circle cx="493.1" cy="175.4" r="1.7"/>
<circle cx="491.6" cy="178.1" r="1.7"/>
<circle cx="494.6" cy="177.6" r="1.7"/>
<circle cx="495" cy="179.8" r="1.7"/>
<circle cx="496" cy="182.7" r="1.7"/>
<circle cx="497.5" cy="184.9" r="1.7"/>
<circle cx="498.9" cy="186.4" r="1.7"/>
<circle cx="498.9" cy="171.8" r="1.7"/>
<circle cx="499.7" cy="174" r="1.7"/>
<circle cx="501.9" cy="176.9" r="1.7"/>
<circle cx="502.6" cy="179.1" r="1.7"/>
<circle cx="503.3" cy="181.3" r="1.7"/>
<circle cx="501.1" cy="183.5" r="1.7"/>
<circle cx="502.6" cy="186.4" r="1.7"/>
<circle cx="505.5" cy="184.2" r="1.7"/>
<circle cx="506.2" cy="179.1" r="1.7"/>
<circle cx="508.4" cy="177.6" r="1.7"/>
<circle cx="509.9" cy="180.5" r="1.7"/>
<circle cx="512.1" cy="178.4" r="1.7"/>
<circle cx="512.8" cy="182" r="1.7"/>
<circle cx="510.6" cy="170.8" r="1.7"/>
<circle cx="512.8" cy="173.2" r="1.7"/>
<circle cx="508.4" cy="186.4" r="1.7"/>
<circle cx="510.6" cy="189.3" r="1.7"/>
<circle cx="506.2" cy="190" r="1.7"/>
<circle cx="504.1" cy="190.8" r="1.7"/>
<circle cx="500.8" cy="194.4" r="1.7"/>
<circle cx="506.2" cy="194.1" r="1.7"/>
<circle cx="508.4" cy="194.4" r="1.7"/>
<circle cx="513.1" cy="193.7" r="1.7"/>
<circle cx="509.6" cy="192.2" r="1.7"/>
<circle cx="511.5" cy="171.8" r="1.7"/>
<circle cx="514.4" cy="173.2" r="1.7"/>
<circle cx="517.3" cy="171.8" r="1.7"/>
<circle cx="520.2" cy="173.2" r="1.7"/>
<circle cx="512.9" cy="176.9" r="1.7"/>
<circle cx="516.6" cy="176.9" r="1.7"/>
<circle cx="520.2" cy="177.6" r="1.7"/>
<circle cx="512.2" cy="181.3" r="1.7"/>
<circle cx="518.8" cy="181.3" r="1.7"/>
<circle cx="510" cy="184.2" r="1.7"/>
<circle cx="516.6" cy="184.9" r="1.7"/>
<circle cx="522.4" cy="186.4" r="1.7"/>
<circle cx="519.5" cy="189.3" r="1.7"/>
<circle cx="516.6" cy="191.5" r="1.7"/>
<circle cx="512.9" cy="193.7" r="1.7"/>
<circle cx="521.7" cy="193.7" r="1.7"/>
<circle cx="526.1" cy="190.8" r="1.7"/>
<circle cx="528.2" cy="174" r="1.7"/>
<circle cx="531.9" cy="172.5" r="1.7"/>
<circle cx="537" cy="171.1" r="1.7"/>
<circle cx="537" cy="174" r="1.7"/>
<circle cx="529.7" cy="176.9" r="1.7"/>
<circle cx="527.5" cy="179.8" r="1.7"/>
<circle cx="526.8" cy="182.7" r="1.7"/>
<circle cx="531.2" cy="181.3" r="1.7"/>
<circle cx="533.4" cy="182.7" r="1.7"/>
<circle cx="537" cy="184.9" r="1.7"/>
<circle cx="531.9" cy="190" r="1.7"/>
<circle cx="534.1" cy="190" r="1.7"/>
<circle cx="532.6" cy="192.2" r="1.7"/>
<circle cx="531.2" cy="196.6" r="1.7"/>
<circle cx="541.4" cy="188.6" r="1.7"/>
<circle cx="539.9" cy="192.2" r="1.7"/>
<circle cx="544.3" cy="191.5" r="1.7"/>
<circle cx="545.8" cy="196.6" r="1.7"/>
<circle cx="542.8" cy="178.4" r="1.7"/>
<circle cx="544.3" cy="182" r="1.7"/>
<circle cx="546.5" cy="179.8" r="1.7"/>
<circle cx="549.4" cy="177.6" r="1.7"/>
<circle cx="548" cy="170.3" r="1.7"/>
<circle cx="553.1" cy="176.6" r="1.7"/>
<circle cx="553.5" cy="182.7" r="1.7"/>
<circle cx="553.8" cy="190" r="1.7"/>
<circle cx="556.7" cy="191.5" r="1.7"/>
<circle cx="559.6" cy="192.2" r="1.7"/>
<circle cx="561.1" cy="197.3" r="1.7"/>
<circle cx="558.9" cy="184.2" r="1.7"/>
<circle cx="559.6" cy="181.3" r="1.7"/>
<circle cx="563.3" cy="180.5" r="1.7"/>
<circle cx="562.6" cy="185.7" r="1.7"/>
<circle cx="566.2" cy="185.7" r="1.7"/>
<circle cx="560.4" cy="174" r="1.7"/>
<circle cx="560.4" cy="178.1" r="1.7"/>
<circle cx="564" cy="174.7" r="1.7"/>
<circle cx="566.9" cy="170.3" r="1.7"/>
<circle cx="568.4" cy="176.9" r="1.7"/>
<circle cx="569.9" cy="175.4" r="1.7"/>
<circle cx="572.8" cy="175.4" r="1.7"/>
<circle cx="578.6" cy="176.2" r="1.7"/>
<circle cx="583" cy="179.1" r="1.7"/>
<circle cx="582.3" cy="182" r="1.7"/>
<circle cx="580.1" cy="184.2" r="1.7"/>
<circle cx="577.2" cy="183.5" r="1.7"/>
<circle cx="583" cy="186.4" r="1.7"/>
<circle cx="589.6" cy="186.4" r="1.7"/>
<circle cx="593.9" cy="186.4" r="1.7"/>
<circle cx="591.8" cy="179.1" r="1.7"/>
<circle cx="599.8" cy="178.4" r="1.7"/>
<circle cx="604.9" cy="178.4" r="1.7"/>
<circle cx="607.8" cy="175.4" r="1.7"/>
<circle cx="566.2" cy="193.7" r="1.7"/>
<circle cx="569.9" cy="194.4" r="1.7"/>
<circle cx="572.8" cy="193.7" r="1.7"/>
<circle cx="574.2" cy="197.3" r="1.7"/>
<circle cx="569.1" cy="200.3" r="1.7"/>
<circle cx="574.2" cy="200.3" r="1.7"/>
<circle cx="578.6" cy="194.4" r="1.7"/>
<circle cx="580.1" cy="197.3" r="1.7"/>
<circle cx="584.5" cy="193" r="1.7"/>
<circle cx="583.7" cy="196.6" r="1.7"/>
<circle cx="588.8" cy="194.4" r="1.7"/>
<circle cx="592.5" cy="193.2" r="1.7"/>
<circle cx="597.6" cy="193.7" r="1.7"/>
<circle cx="604.9" cy="195.1" r="1.7"/>
<circle cx="603.4" cy="197.3" r="1.7"/>
<circle cx="589.6" cy="198.8" r="1.7"/>
<circle cx="591" cy="202.4" r="1.7"/>
<circle cx="580.8" cy="201.7" r="1.7"/>
<circle cx="584.5" cy="203.2" r="1.7"/>
<circle cx="576.4" cy="204.6" r="1.7"/>
<circle cx="581.5" cy="206.1" r="1.7"/>
<circle cx="585.2" cy="207.6" r="1.7"/>
<circle cx="585.9" cy="210.5" r="1.7"/>
<circle cx="580.8" cy="214.9" r="1.7"/>
<circle cx="572.8" cy="206.1" r="1.7"/>
<circle cx="570.6" cy="208.3" r="1.7"/>
<circle cx="573.5" cy="211.2" r="1.7"/>
<circle cx="566.2" cy="211.2" r="1.7"/>
<circle cx="568.4" cy="205.4" r="1.7"/>
<circle cx="563.3" cy="205.4" r="1.7"/>
<circle cx="560.4" cy="206.1" r="1.7"/>
<circle cx="556.7" cy="202.4" r="1.7"/>
<circle cx="552.3" cy="201.7" r="1.7"/>
<circle cx="549.4" cy="201" r="1.7"/>
<circle cx="545.8" cy="201" r="1.7"/>
<circle cx="548.7" cy="203.9" r="1.7"/>
<circle cx="543.6" cy="205.4" r="1.7"/>
<circle cx="536.3" cy="203.2" r="1.7"/>
<circle cx="537.7" cy="205.4" r="1.7"/>
<circle cx="522.7" cy="204.3" r="1.7"/>
<circle cx="543.9" cy="214.1" r="1.7"/>
<circle cx="555" cy="210.5" r="1.7"/>
<circle cx="557.7" cy="214.1" r="1.7"/>
<circle cx="590.3" cy="204.6" r="1.7"/>
<circle cx="594.7" cy="203.2" r="1.7"/>
<circle cx="597.6" cy="201.7" r="1.7"/>
<circle cx="600.5" cy="203.9" r="1.7"/>
<circle cx="603.4" cy="202.4" r="1.7"/>
<circle cx="596.1" cy="206.8" r="1.7"/>
<circle cx="598.3" cy="206.1" r="1.7"/>
<circle cx="594.7" cy="209" r="1.7"/>
<circle cx="597.6" cy="209.7" r="1.7"/>
<circle cx="593.2" cy="211.2" r="1.7"/>
<circle cx="591" cy="213.4" r="1.7"/>
<circle cx="590.3" cy="217.5" r="1.7"/>
<circle cx="600.5" cy="213.4" r="1.7"/>
<circle cx="603.4" cy="209.7" r="1.7"/>
<circle cx="607.1" cy="206.1" r="1.7"/>
<circle cx="604.9" cy="216.3" r="1.7"/>
<circle cx="609.3" cy="211.2" r="1.7"/>
<circle cx="604.6" cy="221.4" r="1.7"/>
<circle cx="602.3" cy="224.8" r="1.7"/>
<circle cx="609.3" cy="217" r="1.7"/>
<circle cx="613.9" cy="170.1" r="1.7"/>
<circle cx="607.9" cy="173.7" r="1.7"/>
<circle cx="606.9" cy="175.8" r="1.7"/>
<circle cx="600.7" cy="177.7" r="1.7"/>
<circle cx="604.6" cy="178.3" r="1.7"/>
<circle cx="615.8" cy="178" r="1.7"/>
<circle cx="611.8" cy="190.2" r="1.7"/>
<circle cx="620.8" cy="188.7" r="1.7"/>
<circle cx="619.4" cy="190.6" r="1.7"/>
<circle cx="617.9" cy="192" r="1.7"/>
<circle cx="626.3" cy="192.6" r="1.7"/>
<circle cx="605.3" cy="194.1" r="1.7"/>
<circle cx="603.6" cy="196.6" r="1.7"/>
<circle cx="610.8" cy="195.2" r="1.7"/>
<circle cx="615.8" cy="195.9" r="1.7"/>
<circle cx="616.8" cy="198.1" r="1.7"/>
<circle cx="624.7" cy="199.5" r="1.7"/>
<circle cx="636.3" cy="195.9" r="1.7"/>
<circle cx="644.1" cy="193.8" r="1.7"/>
<circle cx="643.4" cy="202.1" r="1.7"/>
<circle cx="634.2" cy="202.4" r="1.7"/>
<circle cx="630.6" cy="204.2" r="1.7"/>
<circle cx="639.1" cy="205" r="1.7"/>
<circle cx="643.4" cy="206.7" r="1.7"/>
<circle cx="605" cy="202.4" r="1.7"/>
<circle cx="602.9" cy="204.5" r="1.7"/>
<circle cx="600.7" cy="206" r="1.7"/>
<circle cx="607.2" cy="206.3" r="1.7"/>
<circle cx="612.5" cy="204.5" r="1.7"/>
<circle cx="615.1" cy="203.4" r="1.7"/>
<circle cx="617.5" cy="203.8" r="1.7"/>
<circle cx="618.2" cy="207" r="1.7"/>
<circle cx="602.9" cy="209.6" r="1.7"/>
<circle cx="605" cy="211" r="1.7"/>
<circle cx="609.6" cy="210.3" r="1.7"/>
<circle cx="617.5" cy="210.3" r="1.7"/>
<circle cx="621.1" cy="210.7" r="1.7"/>
<circle cx="600.7" cy="213.1" r="1.7"/>
<circle cx="617.2" cy="213.1" r="1.7"/>
<circle cx="620.1" cy="214.6" r="1.7"/>
<circle cx="613.6" cy="215" r="1.7"/>
<circle cx="609.3" cy="217" r="1.7"/>
<circle cx="604.6" cy="216.7" r="1.7"/>
<circle cx="612.2" cy="218.9" r="1.7"/>
<circle cx="620.1" cy="217.5" r="1.7"/>
<circle cx="621.5" cy="216.5" r="1.7"/>
<circle cx="625.1" cy="218.2" r="1.7"/>
<circle cx="640.2" cy="213.4" r="1.7"/>
<circle cx="634" cy="215" r="1.7"/>
<circle cx="635.2" cy="218.2" r="1.7"/>
<circle cx="604.3" cy="221.3" r="1.7"/>
<circle cx="602.4" cy="224.9" r="1.7"/>
<circle cx="625.1" cy="221.8" r="1.7"/>
<circle cx="629.1" cy="221.3" r="1.7"/>
<circle cx="627.3" cy="226.1" r="1.7"/>
<circle cx="639.1" cy="222.2" r="1.7"/>
<circle cx="643.5" cy="221" r="1.7"/>
<circle cx="648.1" cy="222.5" r="1.7"/>
<circle cx="649.1" cy="225.4" r="1.7"/>
<circle cx="658.1" cy="218.6" r="1.7"/>
<circle cx="658.1" cy="224.6" r="1.7"/>
<circle cx="660" cy="225.4" r="1.7"/>
<circle cx="528.2" cy="187.8" r="1.7"/>
<circle cx="523.7" cy="176.4" r="1.7"/>
<circle cx="510.4" cy="175.7" r="1.7"/>
<circle cx="532.4" cy="174.4" r="1.7"/>
<circle cx="518.4" cy="192.8" r="1.7"/>
<circle cx="525.7" cy="186.3" r="1.7"/>
<circle cx="536.1" cy="177.6" r="1.7"/>
<circle cx="518.8" cy="184.6" r="1.7"/>
<circle cx="520.7" cy="184.0" r="1.7"/>
<circle cx="515.7" cy="188.1" r="1.7"/>
<circle cx="525.3" cy="188.5" r="1.7"/>
<circle cx="513.2" cy="187.9" r="1.7"/>
<circle cx="600.2" cy="209.6" r="1.7"/>
<circle cx="586.7" cy="197.8" r="1.7"/>
<circle cx="581.8" cy="208.5" r="1.7"/>
<circle cx="589.0" cy="206.7" r="1.7"/>
<circle cx="573.9" cy="203.9" r="1.7"/>
<circle cx="600.7" cy="197.8" r="1.7"/>
<circle cx="602.5" cy="199.3" r="1.7"/>
<circle cx="600.7" cy="201.7" r="1.7"/>
<circle cx="569.6" cy="196.4" r="1.7"/>
<circle cx="593.3" cy="198.4" r="1.7"/>
<circle cx="593.7" cy="207.0" r="1.7"/>
<circle cx="566.7" cy="199.9" r="1.7"/>
<circle cx="586.7" cy="195.1" r="1.7"/>
<circle cx="598.2" cy="197.9" r="1.7"/>
<circle cx="508.2" cy="175.2" r="1.7"/>
<circle cx="498.0" cy="175.6" r="1.7"/>
<circle cx="504.2" cy="188.5" r="1.7"/>
<circle cx="498.9" cy="177.9" r="1.7"/>
<circle cx="506.9" cy="180.9" r="1.7"/>
<circle cx="502.2" cy="188.3" r="1.7"/>
</g>
<path d="M402.5 22.3H409.0V231.2H402.5" fill="none" stroke="#222" stroke-width="1"/>
<line x1="402.5" y1="74.5" x2="409.0" y2="74.5" stroke="#222" stroke-width="1"/>
<line x1="402.5" y1="126.75" x2="409.0" y2="126.75" stroke="#222" stroke-width="1"/>
<line x1="402.5" y1="179.0" x2="409.0" y2="179.0" stroke="#222" stroke-width="1"/>
<path d="M419.4 245.8V239.3H676.2V245.8" fill="none" stroke="#222" stroke-width="1"/>
<line x1="470.7" y1="239.3" x2="470.7" y2="245.8" stroke="#222" stroke-width="1"/>
<line x1="522.1" y1="239.3" x2="522.1" y2="245.8" stroke="#222" stroke-width="1"/>
<line x1="573.5" y1="239.3" x2="573.5" y2="245.8" stroke="#222" stroke-width="1"/>
<line x1="624.8" y1="239.3" x2="624.8" y2="245.8" stroke="#222" stroke-width="1"/>
<text x="398" y="25.900000000000002" font-size="11" text-anchor="end">0.020</text>
<text x="398" y="78.1" font-size="11" text-anchor="end">0.015</text>
<text x="398" y="130.35" font-size="11" text-anchor="end">0.010</text>
<text x="398" y="182.6" font-size="11" text-anchor="end">0.005</text>
<text x="398" y="234.79999999999998" font-size="11" text-anchor="end">0.000</text>
<text x="419.4" y="258.6" font-size="11" text-anchor="middle">0</text>
<text x="470.7" y="258.6" font-size="11" text-anchor="middle">20</text>
<text x="522.1" y="258.6" font-size="11" text-anchor="middle">40</text>
<text x="573.5" y="258.6" font-size="11" text-anchor="middle">60</text>
<text x="624.8" y="258.6" font-size="11" text-anchor="middle">80</text>
<text x="676.2" y="258.6" font-size="11" text-anchor="middle">100</text>
<text x="549.85" y="275" font-size="11.1" text-anchor="middle">Variance explained by CMS (in %)</text>
<text transform="translate(362,127) rotate(-90)" font-size="11.1" text-anchor="middle">SNP R2</text>
<text x="353.2" y="12" font-size="15.5" font-weight="bold" fill="#000" stroke-width="0.35">b</text>
</g>
<g id="pc">
<rect x="67.05" y="473.92" width="23.4" height="8.66" fill="#A50F15"/>
<rect x="67.05" y="464.65" width="23.4" height="8.67" fill="#FEE0D2"/>
<rect x="67.05" y="446.12" width="23.4" height="8.66" fill="#FFF5F0"/>
<rect x="102.84" y="473.92" width="23.4" height="8.66" fill="#EF3B2C"/>
<rect x="102.84" y="464.65" width="23.4" height="8.67" fill="#FC9272"/>
<rect x="102.84" y="455.39" width="23.4" height="8.66" fill="#FEE0D2"/>
<rect x="138.63" y="473.92" width="23.4" height="8.66" fill="#CB181D"/>
<rect x="138.63" y="464.65" width="23.4" height="8.67" fill="#FEE0D2"/>
<rect x="138.63" y="455.39" width="23.4" height="8.66" fill="#FEE0D2"/>
<rect x="138.63" y="446.12" width="23.4" height="8.66" fill="#FFF5F0"/>
<rect x="138.63" y="436.86" width="23.4" height="8.67" fill="#FFF5F0"/>
<rect x="174.42" y="473.92" width="23.4" height="8.66" fill="#EF3B2C"/>
<rect x="174.42" y="464.65" width="23.4" height="8.67" fill="#FEE0D2"/>
<rect x="174.42" y="455.39" width="23.4" height="8.66" fill="#FEE0D2"/>
<rect x="174.42" y="446.12" width="23.4" height="8.66" fill="#FFF5F0"/>
<rect x="174.42" y="436.86" width="23.4" height="8.67" fill="#FFF5F0"/>
<rect x="174.42" y="418.33" width="23.4" height="8.66" fill="#FFF5F0"/>
<rect x="210.21" y="473.92" width="23.4" height="8.66" fill="#FB6A4A"/>
<rect x="210.21" y="464.65" width="23.4" height="8.67" fill="#FCBBA1"/>
<rect x="210.21" y="455.39" width="23.4" height="8.66" fill="#FEE0D2"/>
<rect x="210.21" y="446.12" width="23.4" height="8.66" fill="#FEE0D2"/>
<rect x="210.21" y="436.86" width="23.4" height="8.67" fill="#FFF5F0"/>
<rect x="246.00" y="473.92" width="23.4" height="8.66" fill="#FC9272"/>
<rect x="246.00" y="464.65" width="23.4" height="8.67" fill="#FB6A4A"/>
<rect x="246.00" y="455.39" width="23.4" height="8.66" fill="#FFF5F0"/>
<rect x="246.00" y="446.12" width="23.4" height="8.66" fill="#FFF5F0"/>
<rect x="246.00" y="436.86" width="23.4" height="8.67" fill="#FFF5F0"/>
<rect x="281.79" y="473.92" width="23.4" height="8.66" fill="#FCBBA1"/>
<rect x="281.79" y="464.65" width="23.4" height="8.67" fill="#FB6A4A"/>
<rect x="281.79" y="455.39" width="23.4" height="8.66" fill="#FFF5F0"/>
<rect x="281.79" y="446.12" width="23.4" height="8.66" fill="#FFF5F0"/>
<rect x="281.79" y="436.86" width="23.4" height="8.67" fill="#FFF5F0"/>
<rect x="281.79" y="427.59" width="23.4" height="8.66" fill="#FFF5F0"/>
<rect x="281.79" y="418.33" width="23.4" height="8.66" fill="#FFF5F0"/>
<rect x="281.79" y="409.06" width="23.4" height="8.66" fill="#FFF5F0"/>
<rect x="281.79" y="381.27" width="23.4" height="8.66" fill="#FFF5F0"/>
<rect x="317.58" y="473.92" width="23.4" height="8.66" fill="#FC9272"/>
<rect x="317.58" y="464.65" width="23.4" height="8.67" fill="#FCBBA1"/>
<rect x="317.58" y="455.39" width="23.4" height="8.66" fill="#FEE0D2"/>
<rect x="317.58" y="446.12" width="23.4" height="8.66" fill="#FEE0D2"/>
<rect x="317.58" y="436.86" width="23.4" height="8.67" fill="#FEE0D2"/>
<rect x="317.58" y="427.59" width="23.4" height="8.66" fill="#FFF5F0"/>
<rect x="353.37" y="473.92" width="23.4" height="8.66" fill="#FB6A4A"/>
<rect x="353.37" y="464.65" width="23.4" height="8.67" fill="#FCBBA1"/>
<rect x="353.37" y="455.39" width="23.4" height="8.66" fill="#FFF5F0"/>
<rect x="353.37" y="446.12" width="23.4" height="8.66" fill="#FEE0D2"/>
<rect x="353.37" y="436.86" width="23.4" height="8.67" fill="#FFF5F0"/>
<rect x="353.37" y="427.59" width="23.4" height="8.66" fill="#FFF5F0"/>
<rect x="353.37" y="325.68" width="23.4" height="8.66" fill="#FFF5F0"/>
<rect x="389.16" y="473.92" width="23.4" height="8.66" fill="#FB6A4A"/>
<rect x="389.16" y="464.65" width="23.4" height="8.67" fill="#FCBBA1"/>
<rect x="389.16" y="436.86" width="23.4" height="8.67" fill="#FEE0D2"/>
<rect x="389.16" y="427.59" width="23.4" height="8.66" fill="#FFF5F0"/>
<rect x="389.16" y="418.33" width="23.4" height="8.66" fill="#FFF5F0"/>
<rect x="389.16" y="381.27" width="23.4" height="8.66" fill="#FFF5F0"/>
<rect x="424.95" y="473.92" width="23.4" height="8.66" fill="#EF3B2C"/>
<rect x="424.95" y="464.65" width="23.4" height="8.67" fill="#FCBBA1"/>
<rect x="424.95" y="455.39" width="23.4" height="8.66" fill="#FEE0D2"/>
<rect x="424.95" y="446.12" width="23.4" height="8.66" fill="#FFF5F0"/>
<rect x="460.74" y="473.92" width="23.4" height="8.66" fill="#FC9272"/>
<rect x="460.74" y="464.65" width="23.4" height="8.67" fill="#FEE0D2"/>
<rect x="460.74" y="455.39" width="23.4" height="8.66" fill="#FC9272"/>
<rect x="460.74" y="446.12" width="23.4" height="8.66" fill="#FFF5F0"/>
<rect x="496.53" y="473.92" width="23.4" height="8.66" fill="#FEE0D2"/>
<rect x="496.53" y="464.65" width="23.4" height="8.67" fill="#EF3B2C"/>
<rect x="496.53" y="455.39" width="23.4" height="8.66" fill="#FEE0D2"/>
<rect x="496.53" y="446.12" width="23.4" height="8.66" fill="#FFF5F0"/>
<rect x="532.32" y="473.92" width="23.4" height="8.66" fill="#CB181D"/>
<rect x="532.32" y="464.65" width="23.4" height="8.67" fill="#FFF5F0"/>
<rect x="532.32" y="455.39" width="23.4" height="8.66" fill="#FC9272"/>
<rect x="568.11" y="473.92" width="23.4" height="8.66" fill="#FC9272"/>
<rect x="568.11" y="464.65" width="23.4" height="8.67" fill="#FC9272"/>
<rect x="568.11" y="455.39" width="23.4" height="8.66" fill="#FFF5F0"/>
<rect x="568.11" y="446.12" width="23.4" height="8.66" fill="#FFF5F0"/>
<rect x="568.11" y="436.86" width="23.4" height="8.67" fill="#FFF5F0"/>
<rect x="568.11" y="427.59" width="23.4" height="8.66" fill="#FFF5F0"/>
<rect x="568.11" y="418.33" width="23.4" height="8.66" fill="#FFF5F0"/>
<rect x="568.11" y="409.06" width="23.4" height="8.66" fill="#FFF5F0"/>
<rect x="568.11" y="399.80" width="23.4" height="8.66" fill="#FFF5F0"/>
<rect x="568.11" y="381.27" width="23.4" height="8.66" fill="#FFF5F0"/>
<rect x="568.11" y="325.68" width="23.4" height="8.66" fill="#FFF5F0"/>
<rect x="568.11" y="307.15" width="23.4" height="8.66" fill="#FFF5F0"/>
<rect x="603.90" y="473.92" width="23.4" height="8.66" fill="#FC9272"/>
<rect x="603.90" y="464.65" width="23.4" height="8.67" fill="#FC9272"/>
<rect x="603.90" y="455.39" width="23.4" height="8.66" fill="#FCBBA1"/>
<rect x="603.90" y="446.12" width="23.4" height="8.66" fill="#FFF5F0"/>
<rect x="603.90" y="436.86" width="23.4" height="8.67" fill="#FFF5F0"/>
<rect x="603.90" y="427.59" width="23.4" height="8.66" fill="#FFF5F0"/>
<rect x="603.90" y="418.33" width="23.4" height="8.66" fill="#FFF5F0"/>
<rect x="639.69" y="473.92" width="23.4" height="8.66" fill="#FB6A4A"/>
<rect x="639.69" y="464.65" width="23.4" height="8.67" fill="#FB6A4A"/>
<rect x="639.69" y="455.39" width="23.4" height="8.66" fill="#FFF5F0"/>
<line x1="57.1" y1="479.75" x2="675.2" y2="479.75" stroke="#000" stroke-width="1.9" stroke-dasharray="2.5 3.7"/>
<g fill="#7f7f7f">
<circle cx="79.5" cy="447.9" r="1.85"/>
<circle cx="79.5" cy="480.7" r="1.85"/>
<circle cx="79.5" cy="479.0" r="1.85"/>
<circle cx="79.5" cy="477.3" r="1.85"/>
<circle cx="79.5" cy="475.7" r="1.85"/>
<circle cx="79.5" cy="474.0" r="1.85"/>
<circle cx="79.5" cy="472.3" r="1.85"/>
<circle cx="115.2" cy="481.0" r="1.85"/>
<circle cx="115.2" cy="479.4" r="1.85"/>
<circle cx="115.2" cy="477.7" r="1.85"/>
<circle cx="115.2" cy="476.0" r="1.85"/>
<circle cx="115.2" cy="474.4" r="1.85"/>
<circle cx="115.2" cy="472.7" r="1.85"/>
<circle cx="115.2" cy="471.0" r="1.85"/>
<circle cx="115.2" cy="469.4" r="1.85"/>
<circle cx="115.2" cy="467.7" r="1.85"/>
<circle cx="115.2" cy="466.0" r="1.85"/>
<circle cx="115.2" cy="464.4" r="1.85"/>
<circle cx="115.2" cy="462.7" r="1.85"/>
<circle cx="115.2" cy="461.0" r="1.85"/>
<circle cx="151.0" cy="439.2" r="1.85"/>
<circle cx="151.0" cy="441.9" r="1.85"/>
<circle cx="151.0" cy="454.2" r="1.85"/>
<circle cx="151.0" cy="455.1" r="1.85"/>
<circle cx="151.0" cy="460.3" r="1.85"/>
<circle cx="151.0" cy="462.5" r="1.85"/>
<circle cx="151.0" cy="471.4" r="1.85"/>
<circle cx="151.0" cy="473.2" r="1.85"/>
<circle cx="151.0" cy="481.0" r="1.85"/>
<circle cx="151.0" cy="479.4" r="1.85"/>
<circle cx="151.0" cy="477.7" r="1.85"/>
<circle cx="151.0" cy="476.0" r="1.85"/>
<circle cx="151.0" cy="474.4" r="1.85"/>
<circle cx="186.7" cy="418.4" r="1.85"/>
<circle cx="186.7" cy="419.5" r="1.85"/>
<circle cx="186.7" cy="444.9" r="1.85"/>
<circle cx="186.7" cy="450.3" r="1.85"/>
<circle cx="186.7" cy="453.6" r="1.85"/>
<circle cx="186.7" cy="455.5" r="1.85"/>
<circle cx="186.7" cy="456.9" r="1.85"/>
<circle cx="186.7" cy="458.8" r="1.85"/>
<circle cx="186.7" cy="460.6" r="1.85"/>
<circle cx="186.7" cy="462.1" r="1.85"/>
<circle cx="186.7" cy="481.0" r="1.85"/>
<circle cx="186.7" cy="479.4" r="1.85"/>
<circle cx="186.7" cy="477.7" r="1.85"/>
<circle cx="186.7" cy="476.0" r="1.85"/>
<circle cx="186.7" cy="474.4" r="1.85"/>
<circle cx="186.7" cy="472.7" r="1.85"/>
<circle cx="186.7" cy="471.0" r="1.85"/>
<circle cx="222.5" cy="441.7" r="1.85"/>
<circle cx="222.5" cy="481.0" r="1.85"/>
<circle cx="222.5" cy="479.4" r="1.85"/>
<circle cx="222.5" cy="477.7" r="1.85"/>
<circle cx="222.5" cy="476.0" r="1.85"/>
<circle cx="222.5" cy="474.4" r="1.85"/>
<circle cx="222.5" cy="472.7" r="1.85"/>
<circle cx="222.5" cy="471.0" r="1.85"/>
<circle cx="222.5" cy="469.4" r="1.85"/>
<circle cx="222.5" cy="467.7" r="1.85"/>
<circle cx="222.5" cy="466.0" r="1.85"/>
<circle cx="222.5" cy="464.4" r="1.85"/>
<circle cx="222.5" cy="462.7" r="1.85"/>
<circle cx="222.5" cy="461.0" r="1.85"/>
<circle cx="222.5" cy="459.4" r="1.85"/>
<circle cx="222.5" cy="457.7" r="1.85"/>
<circle cx="222.5" cy="456.0" r="1.85"/>
<circle cx="222.5" cy="454.3" r="1.85"/>
<circle cx="222.5" cy="452.7" r="1.85"/>
<circle cx="222.5" cy="451.0" r="1.85"/>
<circle cx="222.5" cy="449.3" r="1.85"/>
<circle cx="258.2" cy="439.0" r="1.85"/>
<circle cx="258.2" cy="441.6" r="1.85"/>
<circle cx="258.2" cy="444.3" r="1.85"/>
<circle cx="258.2" cy="451.4" r="1.85"/>
<circle cx="258.2" cy="456.9" r="1.85"/>
<circle cx="258.2" cy="479.5" r="1.85"/>
<circle cx="258.2" cy="477.9" r="1.85"/>
<circle cx="258.2" cy="476.2" r="1.85"/>
<circle cx="258.2" cy="474.5" r="1.85"/>
<circle cx="258.2" cy="472.9" r="1.85"/>
<circle cx="258.2" cy="471.2" r="1.85"/>
<circle cx="258.2" cy="469.5" r="1.85"/>
<circle cx="258.2" cy="467.9" r="1.85"/>
<circle cx="258.2" cy="466.2" r="1.85"/>
<circle cx="258.2" cy="464.5" r="1.85"/>
<circle cx="294.0" cy="383.6" r="1.85"/>
<circle cx="294.0" cy="412.5" r="1.85"/>
<circle cx="294.0" cy="418.8" r="1.85"/>
<circle cx="294.0" cy="431.4" r="1.85"/>
<circle cx="294.0" cy="437.5" r="1.85"/>
<circle cx="294.0" cy="439.7" r="1.85"/>
<circle cx="294.0" cy="448.8" r="1.85"/>
<circle cx="294.0" cy="450.8" r="1.85"/>
<circle cx="294.0" cy="454.7" r="1.85"/>
<circle cx="294.0" cy="457.1" r="1.85"/>
<circle cx="294.0" cy="462.5" r="1.85"/>
<circle cx="294.0" cy="481.0" r="1.85"/>
<circle cx="294.0" cy="479.4" r="1.85"/>
<circle cx="294.0" cy="477.7" r="1.85"/>
<circle cx="294.0" cy="476.0" r="1.85"/>
<circle cx="294.0" cy="474.4" r="1.85"/>
<circle cx="294.0" cy="472.7" r="1.85"/>
<circle cx="294.0" cy="471.0" r="1.85"/>
<circle cx="294.0" cy="469.4" r="1.85"/>
<circle cx="294.0" cy="467.7" r="1.85"/>
<circle cx="294.0" cy="466.0" r="1.85"/>
<circle cx="329.7" cy="435.4" r="1.85"/>
<circle cx="329.7" cy="439.9" r="1.85"/>
<circle cx="329.7" cy="444.7" r="1.85"/>
<circle cx="329.7" cy="466.6" r="1.85"/>
<circle cx="329.7" cy="464.9" r="1.85"/>
<circle cx="329.7" cy="463.2" r="1.85"/>
<circle cx="329.7" cy="461.6" r="1.85"/>
<circle cx="329.7" cy="459.9" r="1.85"/>
<circle cx="329.7" cy="458.2" r="1.85"/>
<circle cx="329.7" cy="456.6" r="1.85"/>
<circle cx="329.7" cy="454.9" r="1.85"/>
<circle cx="329.7" cy="453.2" r="1.85"/>
<circle cx="329.7" cy="451.6" r="1.85"/>
<circle cx="329.7" cy="449.9" r="1.85"/>
<circle cx="329.7" cy="448.2" r="1.85"/>
<circle cx="329.7" cy="481.0" r="1.85"/>
<circle cx="329.7" cy="479.4" r="1.85"/>
<circle cx="329.7" cy="477.7" r="1.85"/>
<circle cx="329.7" cy="476.0" r="1.85"/>
<circle cx="329.7" cy="474.4" r="1.85"/>
<circle cx="329.7" cy="472.7" r="1.85"/>
<circle cx="329.7" cy="471.0" r="1.85"/>
<circle cx="365.5" cy="326.3" r="1.85"/>
<circle cx="365.5" cy="433.0" r="1.85"/>
<circle cx="365.5" cy="441.4" r="1.85"/>
<circle cx="365.5" cy="445.8" r="1.85"/>
<circle cx="365.5" cy="446.9" r="1.85"/>
<circle cx="365.5" cy="451.8" r="1.85"/>
<circle cx="365.5" cy="458.6" r="1.85"/>
<circle cx="365.5" cy="481.0" r="1.85"/>
<circle cx="365.5" cy="479.4" r="1.85"/>
<circle cx="365.5" cy="477.7" r="1.85"/>
<circle cx="365.5" cy="476.0" r="1.85"/>
<circle cx="365.5" cy="474.4" r="1.85"/>
<circle cx="365.5" cy="472.7" r="1.85"/>
<circle cx="365.5" cy="471.0" r="1.85"/>
<circle cx="365.5" cy="469.4" r="1.85"/>
<circle cx="365.5" cy="467.7" r="1.85"/>
<circle cx="365.5" cy="466.0" r="1.85"/>
<circle cx="365.5" cy="464.4" r="1.85"/>
<circle cx="401.2" cy="384.1" r="1.85"/>
<circle cx="401.2" cy="423.4" r="1.85"/>
<circle cx="401.2" cy="427.1" r="1.85"/>
<circle cx="401.2" cy="434.9" r="1.85"/>
<circle cx="401.2" cy="441.0" r="1.85"/>
<circle cx="401.2" cy="442.9" r="1.85"/>
<circle cx="401.2" cy="445.1" r="1.85"/>
<circle cx="401.2" cy="469.2" r="1.85"/>
<circle cx="401.2" cy="481.0" r="1.85"/>
<circle cx="401.2" cy="479.4" r="1.85"/>
<circle cx="401.2" cy="477.7" r="1.85"/>
<circle cx="401.2" cy="476.0" r="1.85"/>
<circle cx="401.2" cy="474.4" r="1.85"/>
<circle cx="401.2" cy="472.7" r="1.85"/>
<circle cx="436.9" cy="454.5" r="1.85"/>
<circle cx="436.9" cy="481.0" r="1.85"/>
<circle cx="436.9" cy="479.4" r="1.85"/>
<circle cx="436.9" cy="477.7" r="1.85"/>
<circle cx="436.9" cy="476.0" r="1.85"/>
<circle cx="436.9" cy="474.4" r="1.85"/>
<circle cx="436.9" cy="472.7" r="1.85"/>
<circle cx="436.9" cy="471.0" r="1.85"/>
<circle cx="436.9" cy="469.4" r="1.85"/>
<circle cx="436.9" cy="467.7" r="1.85"/>
<circle cx="436.9" cy="466.0" r="1.85"/>
<circle cx="436.9" cy="464.4" r="1.85"/>
<circle cx="436.9" cy="462.7" r="1.85"/>
<circle cx="436.9" cy="461.0" r="1.85"/>
<circle cx="472.7" cy="450.8" r="1.85"/>
<circle cx="472.7" cy="453.4" r="1.85"/>
<circle cx="472.7" cy="466.6" r="1.85"/>
<circle cx="472.7" cy="464.9" r="1.85"/>
<circle cx="472.7" cy="463.2" r="1.85"/>
<circle cx="472.7" cy="461.6" r="1.85"/>
<circle cx="472.7" cy="459.9" r="1.85"/>
<circle cx="472.7" cy="458.2" r="1.85"/>
<circle cx="472.7" cy="481.0" r="1.85"/>
<circle cx="472.7" cy="479.4" r="1.85"/>
<circle cx="472.7" cy="477.7" r="1.85"/>
<circle cx="472.7" cy="476.0" r="1.85"/>
<circle cx="472.7" cy="474.4" r="1.85"/>
<circle cx="472.7" cy="472.7" r="1.85"/>
<circle cx="472.7" cy="471.0" r="1.85"/>
<circle cx="508.4" cy="448.6" r="1.85"/>
<circle cx="508.4" cy="451.0" r="1.85"/>
<circle cx="508.4" cy="456.4" r="1.85"/>
<circle cx="508.4" cy="459.5" r="1.85"/>
<circle cx="508.4" cy="479.4" r="1.85"/>
<circle cx="508.4" cy="474.7" r="1.85"/>
<circle cx="508.4" cy="473.1" r="1.85"/>
<circle cx="508.4" cy="471.4" r="1.85"/>
<circle cx="508.4" cy="469.7" r="1.85"/>
<circle cx="508.4" cy="468.1" r="1.85"/>
<circle cx="508.4" cy="466.4" r="1.85"/>
<circle cx="508.4" cy="464.7" r="1.85"/>
<circle cx="544.2" cy="455.6" r="1.85"/>
<circle cx="544.2" cy="460.6" r="1.85"/>
<circle cx="544.2" cy="462.9" r="1.85"/>
<circle cx="544.2" cy="466.6" r="1.85"/>
<circle cx="544.2" cy="481.0" r="1.85"/>
<circle cx="544.2" cy="479.4" r="1.85"/>
<circle cx="544.2" cy="477.7" r="1.85"/>
<circle cx="544.2" cy="476.0" r="1.85"/>
<circle cx="544.2" cy="474.4" r="1.85"/>
<circle cx="544.2" cy="472.7" r="1.85"/>
<circle cx="579.9" cy="313.9" r="1.85"/>
<circle cx="579.9" cy="327.6" r="1.85"/>
<circle cx="579.9" cy="386.0" r="1.85"/>
<circle cx="579.9" cy="399.5" r="1.85"/>
<circle cx="579.9" cy="401.4" r="1.85"/>
<circle cx="579.9" cy="402.8" r="1.85"/>
<circle cx="579.9" cy="408.8" r="1.85"/>
<circle cx="579.9" cy="411.0" r="1.85"/>
<circle cx="579.9" cy="421.2" r="1.85"/>
<circle cx="579.9" cy="428.9" r="1.85"/>
<circle cx="579.9" cy="433.6" r="1.85"/>
<circle cx="579.9" cy="435.8" r="1.85"/>
<circle cx="579.9" cy="439.0" r="1.85"/>
<circle cx="579.9" cy="443.2" r="1.85"/>
<circle cx="579.9" cy="445.5" r="1.85"/>
<circle cx="579.9" cy="450.8" r="1.85"/>
<circle cx="579.9" cy="453.1" r="1.85"/>
<circle cx="579.9" cy="456.2" r="1.85"/>
<circle cx="579.9" cy="481.0" r="1.85"/>
<circle cx="579.9" cy="479.4" r="1.85"/>
<circle cx="579.9" cy="477.7" r="1.85"/>
<circle cx="579.9" cy="476.0" r="1.85"/>
<circle cx="579.9" cy="474.4" r="1.85"/>
<circle cx="579.9" cy="472.7" r="1.85"/>
<circle cx="579.9" cy="471.0" r="1.85"/>
<circle cx="579.9" cy="469.4" r="1.85"/>
<circle cx="579.9" cy="467.7" r="1.85"/>
<circle cx="579.9" cy="466.0" r="1.85"/>
<circle cx="579.9" cy="464.4" r="1.85"/>
<circle cx="579.9" cy="462.7" r="1.85"/>
<circle cx="579.9" cy="461.0" r="1.85"/>
<circle cx="579.9" cy="459.4" r="1.85"/>
<circle cx="615.7" cy="421.9" r="1.85"/>
<circle cx="615.7" cy="433.8" r="1.85"/>
<circle cx="615.7" cy="438.4" r="1.85"/>
<circle cx="615.7" cy="446.9" r="1.85"/>
<circle cx="615.7" cy="448.8" r="1.85"/>
<circle cx="615.7" cy="450.6" r="1.85"/>
<circle cx="615.7" cy="452.5" r="1.85"/>
<circle cx="615.7" cy="481.0" r="1.85"/>
<circle cx="615.7" cy="479.4" r="1.85"/>
<circle cx="615.7" cy="477.7" r="1.85"/>
<circle cx="615.7" cy="476.0" r="1.85"/>
<circle cx="615.7" cy="474.4" r="1.85"/>
<circle cx="615.7" cy="472.7" r="1.85"/>
<circle cx="615.7" cy="471.0" r="1.85"/>
<circle cx="615.7" cy="469.4" r="1.85"/>
<circle cx="615.7" cy="467.7" r="1.85"/>
<circle cx="615.7" cy="466.0" r="1.85"/>
<circle cx="615.7" cy="464.4" r="1.85"/>
<circle cx="615.7" cy="462.7" r="1.85"/>
<circle cx="615.7" cy="461.0" r="1.85"/>
<circle cx="615.7" cy="459.4" r="1.85"/>
<circle cx="615.7" cy="457.7" r="1.85"/>
<circle cx="615.7" cy="456.0" r="1.85"/>
<circle cx="651.4" cy="459.4" r="1.85"/>
<circle cx="651.4" cy="481.0" r="1.85"/>
<circle cx="651.4" cy="479.4" r="1.85"/>
<circle cx="651.4" cy="477.7" r="1.85"/>
<circle cx="651.4" cy="476.0" r="1.85"/>
<circle cx="651.4" cy="474.4" r="1.85"/>
<circle cx="651.4" cy="472.7" r="1.85"/>
<circle cx="651.4" cy="471.0" r="1.85"/>
<circle cx="651.4" cy="469.4" r="1.85"/>
<circle cx="651.4" cy="467.7" r="1.85"/>
<circle cx="651.4" cy="466.0" r="1.85"/>
<circle cx="651.4" cy="464.4" r="1.85"/>
</g>
<path d="M50.1 306.8H56.6V492.1H50.1" fill="none" stroke="#222" stroke-width="1"/>
<line x1="50.1" y1="325.4" x2="56.6" y2="325.4" stroke="#222" stroke-width="1"/>
<line x1="50.1" y1="343.9" x2="56.6" y2="343.9" stroke="#222" stroke-width="1"/>
<line x1="50.1" y1="362.4" x2="56.6" y2="362.4" stroke="#222" stroke-width="1"/>
<line x1="50.1" y1="381.0" x2="56.6" y2="381.0" stroke="#222" stroke-width="1"/>
<line x1="50.1" y1="399.5" x2="56.6" y2="399.5" stroke="#222" stroke-width="1"/>
<line x1="50.1" y1="418.0" x2="56.6" y2="418.0" stroke="#222" stroke-width="1"/>
<line x1="50.1" y1="436.6" x2="56.6" y2="436.6" stroke="#222" stroke-width="1"/>
<line x1="50.1" y1="455.1" x2="56.6" y2="455.1" stroke="#222" stroke-width="1"/>
<line x1="50.1" y1="473.6" x2="56.6" y2="473.6" stroke="#222" stroke-width="1"/>
<text x="46.2" y="310.8" font-size="11" text-anchor="end">100 k</text>
<text x="46.2" y="329.4" font-size="11" text-anchor="end">90 k</text>
<text x="46.2" y="347.9" font-size="11" text-anchor="end">80 k</text>
<text x="46.2" y="366.4" font-size="11" text-anchor="end">70 k</text>
<text x="46.2" y="385.0" font-size="11" text-anchor="end">60 k</text>
<text x="46.2" y="403.5" font-size="11" text-anchor="end">50 k</text>
<text x="46.2" y="422.0" font-size="11" text-anchor="end">40 k</text>
<text x="46.2" y="440.6" font-size="11" text-anchor="end">30 k</text>
<text x="46.2" y="459.1" font-size="11" text-anchor="end">20 K</text>
<text x="46.2" y="477.6" font-size="11" text-anchor="end">10 K</text>
<text x="46.2" y="496.1" font-size="11" text-anchor="end">0 K</text>
<path d="M79.5 506.3V499.5H651.4V506.3" fill="none" stroke="#222" stroke-width="1"/>
<line x1="115.2" y1="499.5" x2="115.2" y2="506.3" stroke="#222" stroke-width="1"/>
<line x1="151.0" y1="499.5" x2="151.0" y2="506.3" stroke="#222" stroke-width="1"/>
<line x1="186.7" y1="499.5" x2="186.7" y2="506.3" stroke="#222" stroke-width="1"/>
<line x1="222.5" y1="499.5" x2="222.5" y2="506.3" stroke="#222" stroke-width="1"/>
<line x1="258.2" y1="499.5" x2="258.2" y2="506.3" stroke="#222" stroke-width="1"/>
<line x1="294.0" y1="499.5" x2="294.0" y2="506.3" stroke="#222" stroke-width="1"/>
<line x1="329.7" y1="499.5" x2="329.7" y2="506.3" stroke="#222" stroke-width="1"/>
<line x1="365.5" y1="499.5" x2="365.5" y2="506.3" stroke="#222" stroke-width="1"/>
<line x1="401.2" y1="499.5" x2="401.2" y2="506.3" stroke="#222" stroke-width="1"/>
<line x1="436.9" y1="499.5" x2="436.9" y2="506.3" stroke="#222" stroke-width="1"/>
<line x1="472.7" y1="499.5" x2="472.7" y2="506.3" stroke="#222" stroke-width="1"/>
<line x1="508.4" y1="499.5" x2="508.4" y2="506.3" stroke="#222" stroke-width="1"/>
<line x1="544.2" y1="499.5" x2="544.2" y2="506.3" stroke="#222" stroke-width="1"/>
<line x1="579.9" y1="499.5" x2="579.9" y2="506.3" stroke="#222" stroke-width="1"/>
<line x1="615.7" y1="499.5" x2="615.7" y2="506.3" stroke="#222" stroke-width="1"/>
<text transform="translate(88.3,515) rotate(-45)" font-size="11" text-anchor="end">XXL_VLDL</text>
<text transform="translate(124.0,515) rotate(-45)" font-size="11" text-anchor="end">XL_VLDL</text>
<text transform="translate(159.8,515) rotate(-45)" font-size="11" text-anchor="end">L_VLDL</text>
<text transform="translate(195.5,515) rotate(-45)" font-size="11" text-anchor="end">M_VLDL</text>
<text transform="translate(231.3,515) rotate(-45)" font-size="11" text-anchor="end">S_VLDL</text>
<text transform="translate(267.0,515) rotate(-45)" font-size="11" text-anchor="end">XS_VLDL</text>
<text transform="translate(302.8,515) rotate(-45)" font-size="11" text-anchor="end">IDL</text>
<text transform="translate(338.5,515) rotate(-45)" font-size="11" text-anchor="end">L_LDL</text>
<text transform="translate(374.3,515) rotate(-45)" font-size="11" text-anchor="end">M_LDL</text>
<text transform="translate(410.0,515) rotate(-45)" font-size="11" text-anchor="end">S_LDL</text>
<text transform="translate(445.7,515) rotate(-45)" font-size="11" text-anchor="end">XL_HDL</text>
<text transform="translate(481.5,515) rotate(-45)" font-size="11" text-anchor="end">L_HDL</text>
<text transform="translate(517.2,515) rotate(-45)" font-size="11" text-anchor="end">M_HDL</text>
<text transform="translate(553.0,515) rotate(-45)" font-size="11" text-anchor="end">S_HDL</text>
<text transform="translate(585.4,514.6) rotate(-45)" font-size="11" text-anchor="end">Others</text>
<text transform="translate(621.2,514.6) rotate(-45)" font-size="11" text-anchor="end">Fatty acids</text>
<text transform="translate(656.9,514.6) rotate(-45)" font-size="11" text-anchor="end">Amino acids</text>
<text transform="translate(9.3,399) rotate(-90)" font-size="11.1" text-anchor="middle">Equivalent sample size</text>
<text x="0" y="305.4" font-size="15.5" font-weight="bold" fill="#000" stroke-width="0.35">c</text>
</g>
</svg></body></html>
